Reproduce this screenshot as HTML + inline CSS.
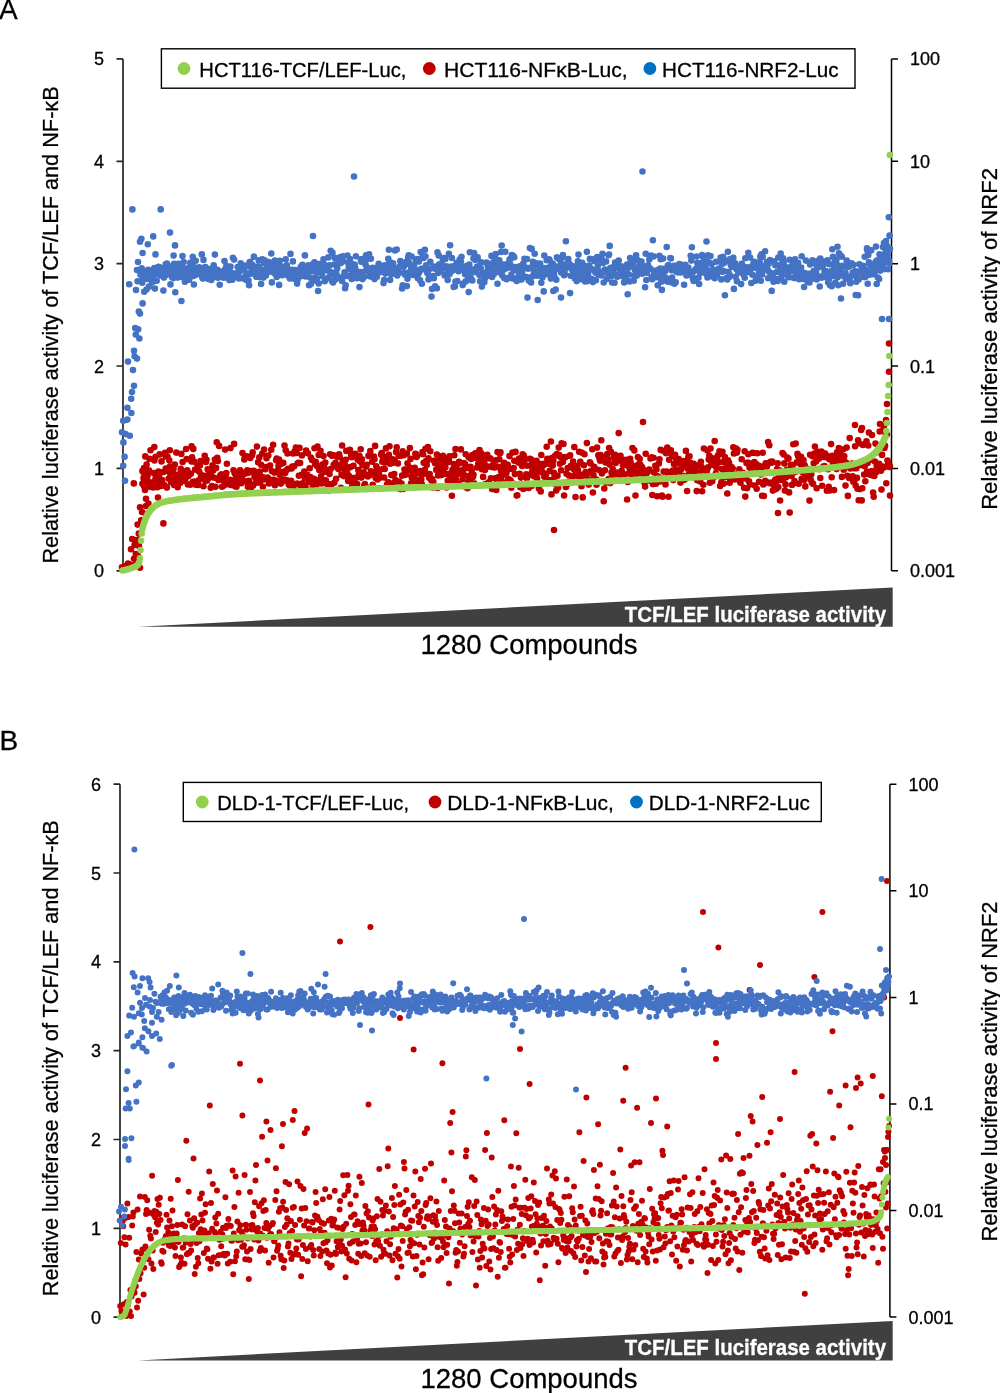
<!DOCTYPE html><html><head><meta charset="utf-8"><title>Luciferase screen</title><style>html,body{margin:0;padding:0;background:#fff;width:1000px;height:1393px;overflow:hidden}svg{display:block;will-change:transform}text{font-family:"Liberation Sans",sans-serif;stroke:currentColor;stroke-width:0.3px}</style></head><body><svg width="1000" height="1393" viewBox="0 0 1000 1393"><text x="-1" y="18.8" font-size="28" font-family="Liberation Sans, sans-serif">A</text><path d="M123 58.9V570.8M116.5 58.9H123M116.5 161.3H123M116.5 263.7H123M116.5 366H123M116.5 468.4H123M116.5 570.8H123" stroke="#262626" stroke-width="1.7" fill="none"/><path d="M891.5 58.9V570.8M891.5 58.9H898M891.5 161.3H898M891.5 263.7H898M891.5 366H898M891.5 468.4H898M891.5 570.8H898" stroke="#000" stroke-width="1.5" fill="none"/><text x="104" y="65.4" font-size="18" text-anchor="end" font-family="Liberation Sans, sans-serif">5</text><text x="104" y="167.8" font-size="18" text-anchor="end" font-family="Liberation Sans, sans-serif">4</text><text x="104" y="270.2" font-size="18" text-anchor="end" font-family="Liberation Sans, sans-serif">3</text><text x="104" y="372.5" font-size="18" text-anchor="end" font-family="Liberation Sans, sans-serif">2</text><text x="104" y="474.9" font-size="18" text-anchor="end" font-family="Liberation Sans, sans-serif">1</text><text x="104" y="577.3" font-size="18" text-anchor="end" font-family="Liberation Sans, sans-serif">0</text><text x="910" y="65.4" font-size="18" font-family="Liberation Sans, sans-serif">100</text><text x="910" y="167.8" font-size="18" font-family="Liberation Sans, sans-serif">10</text><text x="910" y="270.2" font-size="18" font-family="Liberation Sans, sans-serif">1</text><text x="910" y="372.5" font-size="18" font-family="Liberation Sans, sans-serif">0.1</text><text x="910" y="474.9" font-size="18" font-family="Liberation Sans, sans-serif">0.01</text><text x="910" y="577.3" font-size="18" font-family="Liberation Sans, sans-serif">0.001</text><text transform="translate(58.2 563.6) rotate(-90)" font-size="22" textLength="477.3" lengthAdjust="spacingAndGlyphs" font-family="Liberation Sans, sans-serif">Relative luciferase activity of TCF/LEF and NF-&#954;B</text><text transform="translate(997 509.8) rotate(-90)" font-size="22" textLength="341.8" lengthAdjust="spacingAndGlyphs" font-family="Liberation Sans, sans-serif">Relative luciferase activity of NRF2</text><path d="M143.5 472.3h0M144.1 486.2h0M144.7 477.5h0M145.3 456.4h0M145.9 476.3h0M146.5 471.6h0M147.1 479.2h0M147.7 475.3h0M148.3 481.9h0M148.9 470.3h0M149.5 458.8h0M150.1 486.8h0M150.7 485.8h0M151.3 487h0M151.9 486.1h0M152.5 482.4h0M153.1 487.5h0M153.7 473.1h0M154.3 447.1h0M154.9 485.2h0M155.5 478.6h0M156.1 486h0M156.7 479.3h0M157.3 487.3h0M157.9 475.2h0M158.5 471.6h0M159.1 476.5h0M159.7 454.4h0M160.3 481.5h0M160.9 486h0M161.5 461.4h0M162.1 480.1h0M162.7 485.6h0M163.3 472h0M163.9 484.9h0M164.5 485.2h0M165.1 452.7h0M165.7 468.5h0M166.3 469.4h0M166.9 487.6h0M167.5 456.8h0M168.1 471.3h0M168.7 478.8h0M169.3 460.2h0M169.9 466.5h0M170.5 474.9h0M171.1 482.3h0M171.7 469.1h0M172.3 474.2h0M172.9 475.2h0M173.5 469.1h0M174.1 485h0M174.7 478.8h0M175.3 483.6h0M175.9 483.9h0M176.5 478.1h0M177.1 474.7h0M177.7 487.2h0M178.3 480.6h0M178.9 474.5h0M179.5 474.9h0M180.1 482.9h0M180.7 468.9h0M181.3 453.9h0M181.9 471.1h0M182.5 476h0M183.1 471.4h0M183.7 475.5h0M184.3 472.5h0M184.9 480.9h0M185.5 478.5h0M186.1 449h0M186.7 459.1h0M187.3 470.4h0M187.9 484.4h0M188.5 476h0M189.1 474.4h0M189.7 484.4h0M190.3 484.7h0M190.9 473.8h0M191.5 461.4h0M192.1 457.2h0M192.7 482h0M193.3 448.9h0M193.9 481.5h0M194.5 482h0M195.1 469.6h0M195.7 484.7h0M196.3 483.6h0M196.9 482h0M197.5 466h0M198.1 485h0M198.7 480.2h0M199.3 471.7h0M199.9 465.4h0M200.5 461.1h0M201.1 476.3h0M201.7 478.1h0M202.3 475.2h0M202.9 477.8h0M203.5 486.3h0M204.1 476h0M204.7 455.7h0M205.3 480.5h0M205.9 462h0M206.5 459.7h0M207.1 480.6h0M207.7 469.3h0M208.3 478.5h0M208.9 472.8h0M209.5 471.6h0M210.1 472h0M210.7 487.7h0M211.3 475.6h0M211.9 486.1h0M212.5 465.3h0M213.1 470.4h0M213.7 467.1h0M214.3 477.7h0M214.9 459.6h0M215.5 486.8h0M216.1 468.1h0M216.7 442.3h0M217.3 457.7h0M217.9 461.1h0M218.5 479.9h0M219.1 445.9h0M219.7 478.6h0M220.3 475.2h0M220.9 476.6h0M221.5 474.3h0M222.1 486.7h0M222.7 476.3h0M223.3 480.2h0M223.9 485.6h0M224.5 478.7h0M225.1 449.6h0M225.7 475.2h0M226.3 473h0M226.9 463.7h0M227.5 482.9h0M228.1 480.5h0M228.7 480.7h0M229.3 484.4h0M229.9 479.7h0M230.5 448.1h0M231.1 485h0M231.7 481.7h0M232.3 481.9h0M232.9 480.3h0M233.5 470.3h0M234.1 443.9h0M234.7 473.3h0M235.3 486.4h0M235.9 478.1h0M236.5 486.8h0M237.1 483.2h0M237.7 473.3h0M238.3 476.8h0M238.9 478.2h0M239.5 480.2h0M240.1 470.4h0M240.7 479.2h0M241.3 483.2h0M241.9 477.8h0M242.5 453.1h0M243.1 472.5h0M243.7 481.2h0M244.3 459.4h0M244.9 457.4h0M245.5 473.6h0M246.1 481.2h0M246.7 456.4h0M247.3 470.3h0M247.9 486.8h0M248.5 472.7h0M249.1 480.9h0M249.7 483.1h0M250.3 458h0M250.9 471.1h0M251.5 487.1h0M252.1 455.2h0M252.7 452.4h0M253.3 485.2h0M253.9 470.8h0M254.5 476.3h0M255.1 474.3h0M255.7 478.2h0M256.3 482.4h0M256.9 446.6h0M257.5 477.2h0M258.1 462.3h0M258.7 482.6h0M259.3 457.4h0M259.9 471.5h0M260.5 481.2h0M261.1 464.7h0M261.7 476.9h0M262.3 453.5h0M262.9 486.8h0M263.5 477.3h0M264.1 449.6h0M264.7 479.2h0M265.3 469.3h0M265.9 467.1h0M266.5 458.2h0M267.1 478.6h0M267.7 477.6h0M268.3 455.5h0M268.9 483.5h0M269.5 480.3h0M270.1 465.6h0M270.7 479.9h0M271.3 449.7h0M271.9 471h0M272.5 482.7h0M273.1 444.8h0M273.7 479.7h0M274.3 472.6h0M274.9 485.3h0M275.5 480.5h0M276.1 460.2h0M276.7 458.5h0M277.3 483.3h0M277.9 470.5h0M278.5 466h0M279.1 459.6h0M279.7 474.8h0M280.3 481h0M280.9 483.6h0M281.5 463.8h0M282.1 472.1h0M282.7 481.4h0M283.3 462.9h0M283.9 479.5h0M284.5 445.5h0M285.1 473h0M285.7 450.2h0M286.3 470.4h0M286.9 480.3h0M287.5 453.5h0M288.1 468.9h0M288.7 484.5h0M289.3 482h0M289.9 485.8h0M290.5 481.8h0M291.1 480.7h0M291.7 468.5h0M292.3 466.6h0M292.9 453.5h0M293.5 486.7h0M294.1 466.3h0M294.7 451.4h0M295.3 452.6h0M295.9 447.5h0M296.5 452.9h0M297.1 483.5h0M297.7 463.2h0M298.3 462.9h0M298.9 475.8h0M299.5 447.9h0M300.1 463h0M300.7 486.7h0M301.3 474.8h0M301.9 455.4h0M302.5 483.2h0M303.1 487.8h0M303.7 485.3h0M304.3 471.5h0M304.9 478.1h0M305.5 486.2h0M306.1 450.5h0M306.7 476.3h0M307.3 474.9h0M307.9 453.2h0M308.5 478.6h0M309.1 481.7h0M309.7 468.3h0M310.3 477.1h0M310.9 457.6h0M311.5 482.2h0M312.1 460h0M312.7 487h0M313.3 481.8h0M313.9 478.8h0M314.5 448.3h0M315.1 464.1h0M315.7 461.8h0M316.3 485.1h0M316.9 466h0M317.5 446.6h0M318.1 480.8h0M318.7 455h0M319.3 469.9h0M319.9 479.5h0M320.5 450.7h0M321.1 476.3h0M321.7 483.4h0M322.3 464.5h0M322.9 481.8h0M323.5 456.1h0M324.1 466.7h0M324.7 471.7h0M325.3 462.5h0M325.9 480.2h0M326.5 483.2h0M327.1 489h0M327.7 470.3h0M328.3 490.6h0M328.9 484.1h0M329.5 473.9h0M330.1 454.2h0M330.7 469h0M331.3 484.6h0M331.9 455.8h0M332.5 455.2h0M333.1 455.3h0M333.7 464.7h0M334.3 482.7h0M334.9 455.5h0M335.5 462.9h0M336.1 478.8h0M336.7 456.5h0M337.3 467.8h0M337.9 467.7h0M338.5 469.1h0M339.1 454.2h0M339.7 456.9h0M340.3 465.5h0M340.9 487.9h0M341.5 474.8h0M342.1 445.5h0M342.7 461.8h0M343.3 463h0M343.9 476.1h0M344.5 469h0M345.1 465.2h0M345.7 459.7h0M346.3 450.9h0M346.9 472.3h0M347.5 476.7h0M348.1 480.9h0M348.7 475.5h0M349.3 467.4h0M349.9 449.7h0M350.5 467.1h0M351.1 455.5h0M351.7 457.3h0M352.3 485.9h0M352.9 478h0M353.5 465.7h0M354.1 482.7h0M354.7 483.9h0M355.3 453.7h0M355.9 455.2h0M356.5 477.5h0M357.1 484.1h0M357.7 459.7h0M358.3 470.1h0M358.9 474.1h0M359.5 456.1h0M360.1 461.6h0M360.7 449.3h0M361.3 477.6h0M361.9 459.4h0M362.5 465.3h0M363.1 474.1h0M363.7 472.2h0M364.3 485.2h0M364.9 484.1h0M365.5 486h0M366.1 466.5h0M366.7 464.9h0M367.3 476h0M367.9 476.4h0M368.5 455.9h0M369.1 475.6h0M369.7 474.5h0M370.3 451.1h0M370.9 471.2h0M371.5 471.9h0M372.1 461.7h0M372.7 484.8h0M373.3 474.7h0M373.9 456.6h0M374.5 459.3h0M375.1 445.9h0M375.7 478h0M376.3 466.3h0M376.9 470.4h0M377.5 479.5h0M378.1 478.3h0M378.7 488.3h0M379.3 475.5h0M379.9 469.9h0M380.5 477.6h0M381.1 454.5h0M381.7 453h0M382.3 461.7h0M382.9 457.2h0M383.5 468.8h0M384.1 477.5h0M384.7 469h0M385.3 462.5h0M385.9 448.4h0M386.5 456.9h0M387.1 484.2h0M387.7 459h0M388.3 482.3h0M388.9 454.7h0M389.5 446.3h0M390.1 463.8h0M390.7 484.3h0M391.3 475.1h0M391.9 483.5h0M392.5 459.3h0M393.1 462.8h0M393.7 462h0M394.3 474h0M394.9 460.9h0M395.5 480.1h0M396.1 452h0M396.7 447.2h0M397.3 484.1h0M397.9 463.4h0M398.5 455.7h0M399.1 481.5h0M399.7 484.9h0M400.3 489.1h0M400.9 455.8h0M401.5 483.6h0M402.1 475.6h0M402.7 451.2h0M403.3 489h0M403.9 455.3h0M404.5 469.5h0M405.1 474.9h0M405.7 472.1h0M406.3 474.3h0M406.9 453.5h0M407.5 463.4h0M408.1 469.9h0M408.7 487.2h0M409.3 467.4h0M409.9 448.1h0M410.5 458.9h0M411.1 483.2h0M411.7 477.6h0M412.3 477.5h0M412.9 473.3h0M413.5 483.4h0M414.1 476.5h0M414.7 467.9h0M415.3 453.7h0M415.9 454h0M416.5 457h0M417.1 456.1h0M417.7 485.4h0M418.3 480.4h0M418.9 471.6h0M419.5 473.6h0M420.1 471h0M420.7 472.3h0M421.3 479.3h0M421.9 484.2h0M422.5 452.1h0M423.1 454.3h0M423.7 462.7h0M424.3 473.8h0M424.9 469.8h0M425.5 448.7h0M426.1 461h0M426.7 465.1h0M427.3 460.8h0M427.9 447.1h0M428.5 458.2h0M429.1 477.8h0M429.7 474.1h0M430.3 451.3h0M430.9 479.4h0M431.5 480.6h0M432.1 479h0M432.7 487.5h0M433.3 481.9h0M433.9 460.7h0M434.5 460.7h0M435.1 463.2h0M435.7 461.1h0M436.3 469.9h0M436.9 454.6h0M437.5 488h0M438.1 475.4h0M438.7 468.1h0M439.3 465.5h0M439.9 458.2h0M440.5 465.3h0M441.1 470.1h0M441.7 475h0M442.3 462.9h0M442.9 455.7h0M443.5 469.8h0M444.1 458.2h0M444.7 464.6h0M445.3 467.6h0M445.9 459.6h0M446.5 487.5h0M447.1 474.3h0M447.7 480.7h0M448.3 462.1h0M448.9 460.6h0M449.5 456.4h0M450.1 473.6h0M450.7 475.9h0M451.3 481h0M451.9 495.7h0M452.5 469.9h0M453.1 482.1h0M453.7 464h0M454.3 455.3h0M454.9 473.6h0M455.5 449.1h0M456.1 479.9h0M456.7 465.6h0M457.3 474.2h0M457.9 470.5h0M458.5 483.7h0M459.1 461.9h0M459.7 463.1h0M460.3 471h0M460.9 449.4h0M461.5 472.9h0M462.1 474.1h0M462.7 479h0M463.3 469.5h0M463.9 463.1h0M464.5 475.2h0M465.1 464.1h0M465.7 454.2h0M466.3 487.5h0M466.9 468h0M467.5 488.3h0M468.1 482.3h0M468.7 457.3h0M469.3 479.1h0M469.9 475.8h0M470.5 466.7h0M471.1 459h0M471.7 471.4h0M472.3 455.1h0M472.9 476.9h0M473.5 474.7h0M474.1 483.2h0M474.7 457.7h0M475.3 453.4h0M475.9 456.1h0M476.5 456.3h0M477.1 467.5h0M477.7 455.3h0M478.3 463.5h0M478.9 461.9h0M479.5 450h0M480.1 463.1h0M480.7 459.1h0M481.3 453.4h0M481.9 469.2h0M482.5 464.2h0M483.1 476.9h0M483.7 469.2h0M484.3 462h0M484.9 469.9h0M485.5 484.1h0M486.1 457.5h0M486.7 457.3h0M487.3 454.9h0M487.9 466.5h0M488.5 482.4h0M489.1 482.5h0M489.7 458.5h0M490.3 458.4h0M490.9 478.2h0M491.5 466.9h0M492.1 489h0M492.7 465.4h0M493.3 465.7h0M493.9 461.8h0M494.5 467.6h0M495.1 478.3h0M495.7 460.4h0M496.3 490h0M496.9 480.2h0M497.5 452.1h0M498.1 466.9h0M498.7 477h0M499.3 459.3h0M499.9 453.4h0M500.5 452.2h0M501.1 471.3h0M501.7 476.5h0M502.3 468h0M502.9 482.3h0M503.5 465h0M504.1 462.8h0M504.7 473.4h0M505.3 466.9h0M505.9 467.6h0M506.5 472.8h0M507.1 470.2h0M507.7 464.7h0M508.3 478.9h0M508.9 485h0M509.5 456.1h0M510.1 480.1h0M510.7 480.8h0M511.3 487.7h0M511.9 468.9h0M512.5 452.6h0M513.1 483.6h0M513.7 468h0M514.3 460.8h0M514.9 474.1h0M515.5 451.9h0M516.1 460.7h0M516.7 495.6h0M517.3 495.3h0M517.9 461.7h0M518.5 462.6h0M519.1 458.5h0M519.7 473.8h0M520.3 487.3h0M520.9 477.6h0M521.5 463.8h0M522.1 466h0M522.7 454.3h0M523.3 489h0M523.9 455.9h0M524.5 460.2h0M525.1 465.2h0M525.7 486h0M526.3 474.4h0M526.9 478.3h0M527.5 465.7h0M528.1 486.1h0M528.7 488h0M529.3 474.5h0M529.9 458.7h0M530.5 465.6h0M531.1 459.5h0M531.7 485.9h0M532.3 471.1h0M532.9 460.8h0M533.5 476.1h0M534.1 475.1h0M534.7 464.4h0M535.3 468.5h0M535.9 469.5h0M536.5 460.8h0M537.1 478.4h0M537.7 472.6h0M538.3 471.8h0M538.9 488.5h0M539.5 483.5h0M540.1 464.1h0M540.7 491.4h0M541.3 455h0M541.9 467.4h0M542.5 472.8h0M543.1 463.7h0M543.7 464.9h0M544.3 476.8h0M544.9 476.2h0M545.5 473.9h0M546.1 474.2h0M546.7 446.8h0M547.3 458.9h0M547.9 482.9h0M548.5 463.7h0M549.1 480.1h0M549.7 470.8h0M550.3 461h0M550.9 441.5h0M551.5 494.4h0M552.1 457.8h0M552.7 465.4h0M553.3 460.4h0M553.9 472.9h0M554.5 477.3h0M555.1 455.7h0M555.7 484.6h0M556.3 490.5h0M556.9 454.1h0M557.5 475.8h0M558.1 487.8h0M558.7 447.6h0M559.3 455.1h0M559.9 463.7h0M560.5 457h0M561.1 470.2h0M561.7 443.3h0M562.3 462.3h0M562.9 461.8h0M563.5 444h0M564.1 495.5h0M564.7 457h0M565.3 457.3h0M565.9 487h0M566.5 473.8h0M567.1 484.6h0M567.7 468.1h0M568.3 482.2h0M568.9 475.4h0M569.5 455.7h0M570.1 455.4h0M570.7 466h0M571.3 482h0M571.9 482h0M572.5 477.5h0M573.1 461.5h0M573.7 469.1h0M574.3 447.1h0M574.9 475.1h0M575.5 497h0M576.1 475.1h0M576.7 467.3h0M577.3 465.9h0M577.9 470h0M578.5 481.4h0M579.1 451.7h0M579.7 479.3h0M580.3 461.7h0M580.9 474.5h0M581.5 486.2h0M582.1 452.7h0M582.7 497.4h0M583.3 481.7h0M583.9 465.3h0M584.5 454.3h0M585.1 478.5h0M585.7 472.1h0M586.3 476.6h0M586.9 443.1h0M587.5 473.6h0M588.1 472.8h0M588.7 484.6h0M589.3 480.6h0M589.9 462.4h0M590.5 463.5h0M591.1 470.7h0M591.7 479.7h0M592.3 449.3h0M592.9 492.5h0M593.5 475.1h0M594.1 466.8h0M594.7 481.6h0M595.3 468.8h0M595.9 479.3h0M596.5 484.7h0M597.1 447.6h0M597.7 480.5h0M598.3 455.3h0M598.9 470h0M599.5 458.3h0M600.1 460.7h0M600.7 455.1h0M601.3 440.3h0M601.9 473.5h0M602.5 460.2h0M603.1 471.3h0M603.7 501.2h0M604.3 488.5h0M604.9 470.3h0M605.5 462.5h0M606.1 482.6h0M606.7 456h0M607.3 454.1h0M607.9 459.2h0M608.5 479h0M609.1 448.1h0M609.7 464.6h0M610.3 483.1h0M610.9 451.7h0M611.5 472.6h0M612.1 475.3h0M612.7 469h0M613.3 477.4h0M613.9 456.8h0M614.5 460.5h0M615.1 454.9h0M615.7 463h0M616.3 480.6h0M616.9 472.5h0M617.5 459.3h0M618.1 475.7h0M618.7 433.1h0M619.3 473.6h0M619.9 478h0M620.5 455.8h0M621.1 460.9h0M621.7 470.8h0M622.3 473.4h0M622.9 465h0M623.5 459.8h0M624.1 460.7h0M624.7 474.3h0M625.3 464.9h0M625.9 459.7h0M626.5 460.7h0M627.1 499.5h0M627.7 481.9h0M628.3 480.4h0M628.9 473.4h0M629.5 468.2h0M630.1 458.7h0M630.7 462.6h0M631.3 472.1h0M631.9 470.2h0M632.5 448h0M633.1 478.3h0M633.7 466.6h0M634.3 450.4h0M634.9 466h0M635.5 495.5h0M636.1 465.7h0M636.7 475.4h0M637.3 471.9h0M637.9 457h0M638.5 464.5h0M639.1 473.8h0M639.7 459.1h0M640.3 464.9h0M640.9 469.1h0M641.5 466.6h0M642.1 467.2h0M642.7 474.8h0M643.3 476.3h0M643.9 470.1h0M644.5 482.7h0M645.1 486.6h0M645.7 453.8h0M646.3 473.5h0M646.9 470.8h0M647.5 472.2h0M648.1 470.2h0M648.7 470.2h0M649.3 469.6h0M649.9 480.8h0M650.5 458.5h0M651.1 479.3h0M651.7 457.2h0M652.3 495h0M652.9 484.1h0M653.5 457.8h0M654.1 472.4h0M654.7 479.1h0M655.3 465.7h0M655.9 483.8h0M656.5 469.5h0M657.1 496.2h0M657.7 476.3h0M658.3 478.8h0M658.9 463.6h0M659.5 459.3h0M660.1 481.4h0M660.7 449.9h0M661.3 478h0M661.9 495.6h0M662.5 496.8h0M663.1 450.8h0M663.7 471.6h0M664.3 478.8h0M664.9 480h0M665.5 484.4h0M666.1 453.2h0M666.7 471.5h0M667.3 447.6h0M667.9 473h0M668.5 496.7h0M669.1 459.7h0M669.7 475.2h0M670.3 473.5h0M670.9 450.4h0M671.5 473.8h0M672.1 455.6h0M672.7 470.5h0M673.3 480.1h0M673.9 464h0M674.5 478.2h0M675.1 454.7h0M675.7 458.2h0M676.3 469.7h0M676.9 462.7h0M677.5 463.2h0M678.1 474h0M678.7 459h0M679.3 473.4h0M679.9 462.6h0M680.5 482.6h0M681.1 469.2h0M681.7 465.1h0M682.3 480.6h0M682.9 475.8h0M683.5 477.3h0M684.1 461.1h0M684.7 479.6h0M685.3 464.8h0M685.9 450.9h0M686.5 465.8h0M687.1 491h0M687.7 468.8h0M688.3 457.1h0M688.9 474.1h0M689.5 456.2h0M690.1 462.5h0M690.7 465h0M691.3 473.7h0M691.9 476.9h0M692.5 473.6h0M693.1 469.6h0M693.7 463.7h0M694.3 465h0M694.9 474.2h0M695.5 469.5h0M696.1 465.4h0M696.7 491.1h0M697.3 480.2h0M697.9 480.5h0M698.5 472.9h0M699.1 473.8h0M699.7 473.6h0M700.3 481.5h0M700.9 461.7h0M701.5 466.7h0M702.1 491.3h0M702.7 470.1h0M703.3 484.7h0M703.9 448.5h0M704.5 476.1h0M705.1 475.3h0M705.7 469.2h0M706.3 472.8h0M706.9 471h0M707.5 450.5h0M708.1 467.4h0M708.7 459.6h0M709.3 455.8h0M709.9 482.7h0M710.5 448.6h0M711.1 461.4h0M711.7 458h0M712.3 481.3h0M712.9 459.8h0M713.5 465h0M714.1 477.1h0M714.7 441h0M715.3 463h0M715.9 473.3h0M716.5 467.8h0M717.1 458.6h0M717.7 455.8h0M718.3 462.8h0M718.9 454.6h0M719.5 451.4h0M720.1 486h0M720.7 476.4h0M721.3 482.2h0M721.9 469h0M722.5 451.7h0M723.1 461.9h0M723.7 483.6h0M724.3 474h0M724.9 457h0M725.5 477h0M726.1 471.4h0M726.7 466.3h0M727.3 493.5h0M727.9 460.2h0M728.5 465.8h0M729.1 462.9h0M729.7 482.7h0M730.3 480h0M730.9 477.8h0M731.5 467h0M732.1 469.3h0M732.7 468.6h0M733.3 447.3h0M733.9 453.5h0M734.5 479.4h0M735.1 478.6h0M735.7 448.3h0M736.3 474.3h0M736.9 452.6h0M737.5 449.8h0M738.1 477.2h0M738.7 473.7h0M739.3 469.2h0M739.9 481.3h0M740.5 482.7h0M741.1 475.3h0M741.7 459.3h0M742.3 475.9h0M742.9 472.9h0M743.5 476.2h0M744.1 487.7h0M744.7 451.2h0M745.3 496.6h0M745.9 478.6h0M746.5 463.1h0M747.1 488.1h0M747.7 462.5h0M748.3 454.2h0M748.9 481.2h0M749.5 467.5h0M750.1 484.4h0M750.7 463.7h0M751.3 469.1h0M751.9 467.5h0M752.5 452.7h0M753.1 464.2h0M753.7 453h0M754.3 462.1h0M754.9 485.6h0M755.5 466.9h0M756.1 464h0M756.7 488.7h0M757.3 453.2h0M757.9 469.3h0M758.5 465.5h0M759.1 481.7h0M759.7 469.3h0M760.3 466.4h0M760.9 474.4h0M761.5 469.2h0M762.1 495.7h0M762.7 452.8h0M763.3 484.5h0M763.9 496h0M764.5 482.5h0M765.1 480.9h0M765.7 463.3h0M766.3 481.9h0M766.9 466.6h0M767.5 482.5h0M768.1 442h0M768.7 463.3h0M769.3 445.2h0M769.9 483.2h0M770.5 461.7h0M771.1 482.5h0M771.7 462.8h0M772.3 461.6h0M772.9 490.6h0M773.5 484.8h0M774.1 485.2h0M774.7 489.5h0M775.3 479.6h0M775.9 482.5h0M776.5 488.8h0M777.1 469h0M777.7 463.3h0M778.3 487.1h0M778.9 477.4h0M779.5 470.2h0M780.1 500.5h0M780.7 480h0M781.3 472.3h0M781.9 476.9h0M782.5 453.1h0M783.1 480.1h0M783.7 454.5h0M784.3 463.4h0M784.9 490.6h0M785.5 484.4h0M786.1 477.3h0M786.7 469.7h0M787.3 457.5h0M787.9 473.5h0M788.5 458.6h0M789.1 492.4h0M789.7 512.6h0M790.3 475.6h0M790.9 464.7h0M791.5 475.9h0M792.1 484.9h0M792.7 465.1h0M793.3 444.3h0M793.9 472.4h0M794.5 481h0M795.1 482.7h0M795.7 443.6h0M796.3 471.5h0M796.9 462.4h0M797.5 453.9h0M798.1 455.9h0M798.7 483.8h0M799.3 457.5h0M799.9 459.1h0M800.5 464h0M801.1 456.7h0M801.7 478.8h0M802.3 471.9h0M802.9 478.3h0M803.5 460.1h0M804.1 480.1h0M804.7 465.3h0M805.3 486.4h0M805.9 472.6h0M806.5 476h0M807.1 472.5h0M807.7 468.9h0M808.3 473.4h0M808.9 474h0M809.5 500.6h0M810.1 454.8h0M810.7 479.8h0M811.3 474.3h0M811.9 482.7h0M812.5 456.2h0M813.1 483.9h0M813.7 463.3h0M814.3 453.5h0M814.9 446.6h0M815.5 453.3h0M816.1 461.5h0M816.7 488.2h0M817.3 451.6h0M817.9 453.1h0M818.5 458.2h0M819.1 458.6h0M819.7 469.3h0M820.3 478h0M820.9 454.4h0M821.5 451.5h0M822.1 485.8h0M822.7 456.7h0M823.3 466.6h0M823.9 457h0M824.5 466.1h0M825.1 453.5h0M825.7 454.8h0M826.3 456.8h0M826.9 490.7h0M827.5 457.6h0M828.1 469.2h0M828.7 486.9h0M829.3 459.2h0M829.9 490.5h0M830.5 456.2h0M831.1 444.1h0M831.7 477.3h0M832.3 455.7h0M832.9 462.7h0M833.5 459.6h0M834.1 490.1h0M834.7 460.1h0M835.3 467.3h0M835.9 458h0M836.5 469.1h0M837.1 452.4h0M837.7 465h0M838.3 458.7h0M838.9 448h0M839.5 466.2h0M840.1 453.6h0M840.7 465.4h0M841.3 460.7h0M841.9 476.9h0M842.5 456.7h0M843.1 449.6h0M843.7 469.8h0M844.3 456.2h0M844.9 461.8h0M845.5 485.6h0M846.1 462.8h0M846.7 447.6h0M847.3 475.7h0M847.9 495.9h0M848.5 464.8h0M849.1 478h0M849.7 438.1h0M850.3 468.4h0M850.9 467.8h0M851.5 477.5h0M852.1 463.6h0M852.7 476.4h0M853.3 481.7h0M853.9 468.3h0M854.5 480.1h0M855.1 446.3h0M855.7 485.6h0M856.3 468.2h0M856.9 477.9h0M857.5 488.8h0M858.1 440.3h0M858.7 500.2h0M859.3 443.3h0M859.9 489.1h0M860.5 465h0M861.1 430h0M861.7 500.4h0M862.3 488.2h0M862.9 444.9h0M863.5 463.1h0M864.1 474.6h0M864.7 466.2h0M865.3 481.2h0M865.9 463.5h0M866.5 441.2h0M867.1 471.5h0M867.7 462.9h0M868.3 445.5h0M868.9 432.6h0M869.5 474.5h0M870.1 459.9h0M870.7 473.9h0M871.3 475.1h0M871.9 471h0M872.5 474.7h0M873.1 492.6h0M873.7 496.8h0M874.3 476h0M874.9 461.6h0M875.5 443.6h0M876.1 472.3h0M876.7 466.2h0M877.3 452.3h0M877.9 450.9h0M878.5 464.9h0M879.1 463.8h0M879.7 431.5h0M880.3 468.2h0M880.9 470.7h0M881.5 489.6h0M882.1 454.9h0M882.7 466.5h0M883.3 429.8h0M883.9 467.4h0M884.5 447.9h0M885.1 445.7h0M885.7 433.5h0M886.3 483.3h0M886.9 434.5h0M887.5 460.6h0M888.1 462.4h0M888.7 465.8h0M889.3 467h0M889.9 466h0M133.8 483.4h0M143 483.8h0M143.6 477.8h0M146 498.8h0M140 507.2h0M146 506h0M148.4 503.6h0M158 497.6h0M163.4 523.4h0M137.6 524.6h0M141.2 520.4h0M138.8 533.6h0M132.2 539h0M134.6 545h0M131 549.2h0M135.8 554h0M134 558.8h0M128 563.6h0M122 567.2h0M140 567.8h0M146 514.4h0M125 566h0M131 565h0M136 562h0M138 556h0M139 546h0M137 540h0M142 512h0M150.5 450.2h0M169.8 450.2h0M176.3 452.6h0M191.6 446.4h0M155.6 456.8h0M165.8 456.5h0M154.4 460.4h0M146.6 464.6h0M174.8 464.6h0M182.6 462h0M194 461.6h0M142.4 471h0M149.6 472.4h0M168.8 471.8h0M143.6 478.4h0M142.4 483.8h0M145 490h0M144 468h0M554 530h0M778 513h0M889 343.5h0M889 371.7h0M890 495.6h0M643 422h0M887 404h0M886 420h0M884 426h0M880 424h0M872 435h0M862 428h0M855 425h0" stroke="#C00000" stroke-width="6.6" stroke-linecap="round" fill="none"/><path d="M122.5 570.5h0M123.1 570.4h0M123.7 570.3h0M124.3 570.2h0M124.9 570.1h0M125.5 569.9h0M126.1 569.8h0M126.7 569.6h0M127.3 569.4h0M127.9 569.3h0M128.5 569.1h0M129.1 568.9h0M129.7 568.7h0M130.3 568.5h0M130.9 568.3h0M131.5 568.1h0M132.1 567.9h0M132.7 567.7h0M133.3 567.5h0M133.9 567.3h0M134.5 567h0M135.1 566.7h0M135.7 566.4h0M136.3 566h0M136.9 565.6h0M137.5 565.1h0M138.1 564.5h0M138.7 563.6h0M139.3 562.1h0M139.9 558.2h0M140.5 550.1h0M141.1 540.7h0M141.7 533.5h0M142.3 529.3h0M142.9 526.8h0M143.5 524.7h0M144.1 522.8h0M144.7 521.2h0M145.3 519.6h0M145.9 518.1h0M146.5 516.6h0M147.1 515.4h0M147.7 514.3h0M148.3 513.3h0M148.9 512.3h0M149.5 511.4h0M150.1 510.7h0M150.7 510h0M151.3 509.3h0M151.9 508.7h0M152.5 508.1h0M153.1 507.5h0M153.7 507h0M154.3 506.5h0M154.9 506.1h0M155.5 505.7h0M156.1 505.3h0M156.7 504.9h0M157.3 504.5h0M157.9 504.2h0M158.5 503.9h0M159.1 503.5h0M159.7 503.3h0M160.3 503h0M160.9 502.8h0M161.5 502.6h0M162.1 502.4h0M162.7 502.2h0M163.3 502h0M163.9 501.9h0M164.5 501.8h0M165.1 501.6h0M165.7 501.5h0M166.3 501.4h0M166.9 501.3h0M167.5 501.1h0M168.1 501h0M168.7 500.9h0M169.3 500.8h0M169.9 500.7h0M170.5 500.7h0M171.1 500.6h0M171.7 500.5h0M172.3 500.4h0M172.9 500.3h0M173.5 500.2h0M174.1 500.1h0M174.7 500h0M175.3 500h0M175.9 499.9h0M176.5 499.8h0M177.1 499.7h0M177.7 499.6h0M178.3 499.5h0M178.9 499.5h0M179.5 499.4h0M180.1 499.3h0M180.7 499.2h0M181.3 499.2h0M181.9 499.1h0M182.5 499h0M183.1 499h0M183.7 498.9h0M184.3 498.8h0M184.9 498.7h0M185.5 498.7h0M186.1 498.6h0M186.7 498.5h0M187.3 498.5h0M187.9 498.4h0M188.5 498.4h0M189.1 498.3h0M189.7 498.2h0M190.3 498.2h0M190.9 498.1h0M191.5 498h0M192.1 498h0M192.7 497.9h0M193.3 497.9h0M193.9 497.8h0M194.5 497.8h0M195.1 497.7h0M195.7 497.7h0M196.3 497.6h0M196.9 497.5h0M197.5 497.5h0M198.1 497.4h0M198.7 497.4h0M199.3 497.3h0M199.9 497.3h0M200.5 497.2h0M201.1 497.2h0M201.7 497.1h0M202.3 497.1h0M202.9 497h0M203.5 497h0M204.1 496.9h0M204.7 496.9h0M205.3 496.8h0M205.9 496.8h0M206.5 496.7h0M207.1 496.7h0M207.7 496.6h0M208.3 496.6h0M208.9 496.5h0M209.5 496.4h0M210.1 496.4h0M210.7 496.3h0M211.3 496.3h0M211.9 496.2h0M212.5 496.2h0M213.1 496.1h0M213.7 496h0M214.3 496h0M214.9 495.9h0M215.5 495.9h0M216.1 495.8h0M216.7 495.7h0M217.3 495.7h0M217.9 495.6h0M218.5 495.5h0M219.1 495.5h0M219.7 495.4h0M220.3 495.3h0M220.9 495.3h0M221.5 495.2h0M222.1 495.2h0M222.7 495.1h0M223.3 495h0M223.9 495h0M224.5 494.9h0M225.1 494.9h0M225.7 494.8h0M226.3 494.8h0M226.9 494.7h0M227.5 494.7h0M228.1 494.6h0M228.7 494.6h0M229.3 494.5h0M229.9 494.5h0M230.5 494.5h0M231.1 494.4h0M231.7 494.4h0M232.3 494.4h0M232.9 494.3h0M233.5 494.3h0M234.1 494.2h0M234.7 494.2h0M235.3 494.2h0M235.9 494.1h0M236.5 494.1h0M237.1 494.1h0M237.7 494h0M238.3 494h0M238.9 494h0M239.5 493.9h0M240.1 493.9h0M240.7 493.9h0M241.3 493.8h0M241.9 493.8h0M242.5 493.8h0M243.1 493.8h0M243.7 493.7h0M244.3 493.7h0M244.9 493.7h0M245.5 493.6h0M246.1 493.6h0M246.7 493.6h0M247.3 493.5h0M247.9 493.5h0M248.5 493.5h0M249.1 493.5h0M249.7 493.4h0M250.3 493.4h0M250.9 493.4h0M251.5 493.3h0M252.1 493.3h0M252.7 493.3h0M253.3 493.3h0M253.9 493.2h0M254.5 493.2h0M255.1 493.2h0M255.7 493.2h0M256.3 493.1h0M256.9 493.1h0M257.5 493.1h0M258.1 493.1h0M258.7 493h0M259.3 493h0M259.9 493h0M260.5 493h0M261.1 492.9h0M261.7 492.9h0M262.3 492.9h0M262.9 492.9h0M263.5 492.8h0M264.1 492.8h0M264.7 492.8h0M265.3 492.8h0M265.9 492.7h0M266.5 492.7h0M267.1 492.7h0M267.7 492.7h0M268.3 492.7h0M268.9 492.6h0M269.5 492.6h0M270.1 492.6h0M270.7 492.6h0M271.3 492.5h0M271.9 492.5h0M272.5 492.5h0M273.1 492.5h0M273.7 492.5h0M274.3 492.4h0M274.9 492.4h0M275.5 492.4h0M276.1 492.4h0M276.7 492.3h0M277.3 492.3h0M277.9 492.3h0M278.5 492.3h0M279.1 492.3h0M279.7 492.2h0M280.3 492.2h0M280.9 492.2h0M281.5 492.2h0M282.1 492.2h0M282.7 492.1h0M283.3 492.1h0M283.9 492.1h0M284.5 492.1h0M285.1 492h0M285.7 492h0M286.3 492h0M286.9 492h0M287.5 492h0M288.1 491.9h0M288.7 491.9h0M289.3 491.9h0M289.9 491.9h0M290.5 491.9h0M291.1 491.8h0M291.7 491.8h0M292.3 491.8h0M292.9 491.8h0M293.5 491.7h0M294.1 491.7h0M294.7 491.7h0M295.3 491.7h0M295.9 491.7h0M296.5 491.6h0M297.1 491.6h0M297.7 491.6h0M298.3 491.6h0M298.9 491.5h0M299.5 491.5h0M300.1 491.5h0M300.7 491.5h0M301.3 491.4h0M301.9 491.4h0M302.5 491.4h0M303.1 491.4h0M303.7 491.4h0M304.3 491.3h0M304.9 491.3h0M305.5 491.3h0M306.1 491.3h0M306.7 491.2h0M307.3 491.2h0M307.9 491.2h0M308.5 491.2h0M309.1 491.2h0M309.7 491.1h0M310.3 491.1h0M310.9 491.1h0M311.5 491.1h0M312.1 491h0M312.7 491h0M313.3 491h0M313.9 491h0M314.5 490.9h0M315.1 490.9h0M315.7 490.9h0M316.3 490.9h0M316.9 490.9h0M317.5 490.8h0M318.1 490.8h0M318.7 490.8h0M319.3 490.8h0M319.9 490.7h0M320.5 490.7h0M321.1 490.7h0M321.7 490.7h0M322.3 490.7h0M322.9 490.6h0M323.5 490.6h0M324.1 490.6h0M324.7 490.6h0M325.3 490.5h0M325.9 490.5h0M326.5 490.5h0M327.1 490.5h0M327.7 490.5h0M328.3 490.4h0M328.9 490.4h0M329.5 490.4h0M330.1 490.4h0M330.7 490.4h0M331.3 490.3h0M331.9 490.3h0M332.5 490.3h0M333.1 490.3h0M333.7 490.2h0M334.3 490.2h0M334.9 490.2h0M335.5 490.2h0M336.1 490.2h0M336.7 490.1h0M337.3 490.1h0M337.9 490.1h0M338.5 490.1h0M339.1 490.1h0M339.7 490h0M340.3 490h0M340.9 490h0M341.5 490h0M342.1 489.9h0M342.7 489.9h0M343.3 489.9h0M343.9 489.9h0M344.5 489.9h0M345.1 489.8h0M345.7 489.8h0M346.3 489.8h0M346.9 489.8h0M347.5 489.8h0M348.1 489.7h0M348.7 489.7h0M349.3 489.7h0M349.9 489.7h0M350.5 489.7h0M351.1 489.6h0M351.7 489.6h0M352.3 489.6h0M352.9 489.6h0M353.5 489.5h0M354.1 489.5h0M354.7 489.5h0M355.3 489.5h0M355.9 489.5h0M356.5 489.4h0M357.1 489.4h0M357.7 489.4h0M358.3 489.4h0M358.9 489.4h0M359.5 489.3h0M360.1 489.3h0M360.7 489.3h0M361.3 489.3h0M361.9 489.3h0M362.5 489.2h0M363.1 489.2h0M363.7 489.2h0M364.3 489.2h0M364.9 489.2h0M365.5 489.1h0M366.1 489.1h0M366.7 489.1h0M367.3 489.1h0M367.9 489.1h0M368.5 489h0M369.1 489h0M369.7 489h0M370.3 489h0M370.9 489h0M371.5 488.9h0M372.1 488.9h0M372.7 488.9h0M373.3 488.9h0M373.9 488.9h0M374.5 488.8h0M375.1 488.8h0M375.7 488.8h0M376.3 488.8h0M376.9 488.8h0M377.5 488.7h0M378.1 488.7h0M378.7 488.7h0M379.3 488.7h0M379.9 488.7h0M380.5 488.6h0M381.1 488.6h0M381.7 488.6h0M382.3 488.6h0M382.9 488.6h0M383.5 488.5h0M384.1 488.5h0M384.7 488.5h0M385.3 488.5h0M385.9 488.5h0M386.5 488.4h0M387.1 488.4h0M387.7 488.4h0M388.3 488.4h0M388.9 488.4h0M389.5 488.3h0M390.1 488.3h0M390.7 488.3h0M391.3 488.3h0M391.9 488.3h0M392.5 488.2h0M393.1 488.2h0M393.7 488.2h0M394.3 488.2h0M394.9 488.2h0M395.5 488.1h0M396.1 488.1h0M396.7 488.1h0M397.3 488.1h0M397.9 488.1h0M398.5 488h0M399.1 488h0M399.7 488h0M400.3 488h0M400.9 488h0M401.5 488h0M402.1 487.9h0M402.7 487.9h0M403.3 487.9h0M403.9 487.9h0M404.5 487.9h0M405.1 487.8h0M405.7 487.8h0M406.3 487.8h0M406.9 487.8h0M407.5 487.8h0M408.1 487.7h0M408.7 487.7h0M409.3 487.7h0M409.9 487.7h0M410.5 487.7h0M411.1 487.6h0M411.7 487.6h0M412.3 487.6h0M412.9 487.6h0M413.5 487.6h0M414.1 487.6h0M414.7 487.5h0M415.3 487.5h0M415.9 487.5h0M416.5 487.5h0M417.1 487.5h0M417.7 487.4h0M418.3 487.4h0M418.9 487.4h0M419.5 487.4h0M420.1 487.4h0M420.7 487.4h0M421.3 487.3h0M421.9 487.3h0M422.5 487.3h0M423.1 487.3h0M423.7 487.3h0M424.3 487.2h0M424.9 487.2h0M425.5 487.2h0M426.1 487.2h0M426.7 487.2h0M427.3 487.2h0M427.9 487.1h0M428.5 487.1h0M429.1 487.1h0M429.7 487.1h0M430.3 487.1h0M430.9 487.1h0M431.5 487h0M432.1 487h0M432.7 487h0M433.3 487h0M433.9 487h0M434.5 486.9h0M435.1 486.9h0M435.7 486.9h0M436.3 486.9h0M436.9 486.9h0M437.5 486.9h0M438.1 486.8h0M438.7 486.8h0M439.3 486.8h0M439.9 486.8h0M440.5 486.8h0M441.1 486.8h0M441.7 486.7h0M442.3 486.7h0M442.9 486.7h0M443.5 486.7h0M444.1 486.7h0M444.7 486.7h0M445.3 486.6h0M445.9 486.6h0M446.5 486.6h0M447.1 486.6h0M447.7 486.6h0M448.3 486.5h0M448.9 486.5h0M449.5 486.5h0M450.1 486.5h0M450.7 486.5h0M451.3 486.5h0M451.9 486.4h0M452.5 486.4h0M453.1 486.4h0M453.7 486.4h0M454.3 486.4h0M454.9 486.4h0M455.5 486.3h0M456.1 486.3h0M456.7 486.3h0M457.3 486.3h0M457.9 486.3h0M458.5 486.3h0M459.1 486.2h0M459.7 486.2h0M460.3 486.2h0M460.9 486.2h0M461.5 486.2h0M462.1 486.2h0M462.7 486.1h0M463.3 486.1h0M463.9 486.1h0M464.5 486.1h0M465.1 486.1h0M465.7 486h0M466.3 486h0M466.9 486h0M467.5 486h0M468.1 486h0M468.7 486h0M469.3 485.9h0M469.9 485.9h0M470.5 485.9h0M471.1 485.9h0M471.7 485.9h0M472.3 485.9h0M472.9 485.8h0M473.5 485.8h0M474.1 485.8h0M474.7 485.8h0M475.3 485.8h0M475.9 485.7h0M476.5 485.7h0M477.1 485.7h0M477.7 485.7h0M478.3 485.7h0M478.9 485.7h0M479.5 485.6h0M480.1 485.6h0M480.7 485.6h0M481.3 485.6h0M481.9 485.6h0M482.5 485.5h0M483.1 485.5h0M483.7 485.5h0M484.3 485.5h0M484.9 485.5h0M485.5 485.5h0M486.1 485.4h0M486.7 485.4h0M487.3 485.4h0M487.9 485.4h0M488.5 485.4h0M489.1 485.3h0M489.7 485.3h0M490.3 485.3h0M490.9 485.3h0M491.5 485.3h0M492.1 485.3h0M492.7 485.2h0M493.3 485.2h0M493.9 485.2h0M494.5 485.2h0M495.1 485.2h0M495.7 485.1h0M496.3 485.1h0M496.9 485.1h0M497.5 485.1h0M498.1 485.1h0M498.7 485h0M499.3 485h0M499.9 485h0M500.5 485h0M501.1 485h0M501.7 484.9h0M502.3 484.9h0M502.9 484.9h0M503.5 484.9h0M504.1 484.9h0M504.7 484.8h0M505.3 484.8h0M505.9 484.8h0M506.5 484.8h0M507.1 484.8h0M507.7 484.8h0M508.3 484.7h0M508.9 484.7h0M509.5 484.7h0M510.1 484.7h0M510.7 484.7h0M511.3 484.6h0M511.9 484.6h0M512.5 484.6h0M513.1 484.6h0M513.7 484.6h0M514.3 484.5h0M514.9 484.5h0M515.5 484.5h0M516.1 484.5h0M516.7 484.5h0M517.3 484.4h0M517.9 484.4h0M518.5 484.4h0M519.1 484.4h0M519.7 484.4h0M520.3 484.3h0M520.9 484.3h0M521.5 484.3h0M522.1 484.3h0M522.7 484.3h0M523.3 484.2h0M523.9 484.2h0M524.5 484.2h0M525.1 484.2h0M525.7 484.2h0M526.3 484.1h0M526.9 484.1h0M527.5 484.1h0M528.1 484.1h0M528.7 484.1h0M529.3 484h0M529.9 484h0M530.5 484h0M531.1 484h0M531.7 484h0M532.3 483.9h0M532.9 483.9h0M533.5 483.9h0M534.1 483.9h0M534.7 483.9h0M535.3 483.8h0M535.9 483.8h0M536.5 483.8h0M537.1 483.8h0M537.7 483.8h0M538.3 483.7h0M538.9 483.7h0M539.5 483.7h0M540.1 483.7h0M540.7 483.7h0M541.3 483.6h0M541.9 483.6h0M542.5 483.6h0M543.1 483.6h0M543.7 483.6h0M544.3 483.5h0M544.9 483.5h0M545.5 483.5h0M546.1 483.5h0M546.7 483.5h0M547.3 483.4h0M547.9 483.4h0M548.5 483.4h0M549.1 483.4h0M549.7 483.3h0M550.3 483.3h0M550.9 483.3h0M551.5 483.3h0M552.1 483.3h0M552.7 483.2h0M553.3 483.2h0M553.9 483.2h0M554.5 483.2h0M555.1 483.2h0M555.7 483.1h0M556.3 483.1h0M556.9 483.1h0M557.5 483.1h0M558.1 483.1h0M558.7 483h0M559.3 483h0M559.9 483h0M560.5 483h0M561.1 482.9h0M561.7 482.9h0M562.3 482.9h0M562.9 482.9h0M563.5 482.9h0M564.1 482.8h0M564.7 482.8h0M565.3 482.8h0M565.9 482.8h0M566.5 482.8h0M567.1 482.7h0M567.7 482.7h0M568.3 482.7h0M568.9 482.7h0M569.5 482.6h0M570.1 482.6h0M570.7 482.6h0M571.3 482.6h0M571.9 482.6h0M572.5 482.5h0M573.1 482.5h0M573.7 482.5h0M574.3 482.5h0M574.9 482.5h0M575.5 482.4h0M576.1 482.4h0M576.7 482.4h0M577.3 482.4h0M577.9 482.3h0M578.5 482.3h0M579.1 482.3h0M579.7 482.3h0M580.3 482.3h0M580.9 482.2h0M581.5 482.2h0M582.1 482.2h0M582.7 482.2h0M583.3 482.1h0M583.9 482.1h0M584.5 482.1h0M585.1 482.1h0M585.7 482.1h0M586.3 482h0M586.9 482h0M587.5 482h0M588.1 482h0M588.7 481.9h0M589.3 481.9h0M589.9 481.9h0M590.5 481.9h0M591.1 481.8h0M591.7 481.8h0M592.3 481.8h0M592.9 481.8h0M593.5 481.8h0M594.1 481.7h0M594.7 481.7h0M595.3 481.7h0M595.9 481.7h0M596.5 481.6h0M597.1 481.6h0M597.7 481.6h0M598.3 481.6h0M598.9 481.5h0M599.5 481.5h0M600.1 481.5h0M600.7 481.5h0M601.3 481.4h0M601.9 481.4h0M602.5 481.4h0M603.1 481.4h0M603.7 481.4h0M604.3 481.3h0M604.9 481.3h0M605.5 481.3h0M606.1 481.3h0M606.7 481.2h0M607.3 481.2h0M607.9 481.2h0M608.5 481.2h0M609.1 481.1h0M609.7 481.1h0M610.3 481.1h0M610.9 481.1h0M611.5 481h0M612.1 481h0M612.7 481h0M613.3 481h0M613.9 480.9h0M614.5 480.9h0M615.1 480.9h0M615.7 480.9h0M616.3 480.8h0M616.9 480.8h0M617.5 480.8h0M618.1 480.8h0M618.7 480.8h0M619.3 480.7h0M619.9 480.7h0M620.5 480.7h0M621.1 480.7h0M621.7 480.6h0M622.3 480.6h0M622.9 480.6h0M623.5 480.6h0M624.1 480.5h0M624.7 480.5h0M625.3 480.5h0M625.9 480.5h0M626.5 480.4h0M627.1 480.4h0M627.7 480.4h0M628.3 480.4h0M628.9 480.3h0M629.5 480.3h0M630.1 480.3h0M630.7 480.3h0M631.3 480.2h0M631.9 480.2h0M632.5 480.2h0M633.1 480.2h0M633.7 480.1h0M634.3 480.1h0M634.9 480.1h0M635.5 480.1h0M636.1 480h0M636.7 480h0M637.3 480h0M637.9 479.9h0M638.5 479.9h0M639.1 479.9h0M639.7 479.9h0M640.3 479.8h0M640.9 479.8h0M641.5 479.8h0M642.1 479.8h0M642.7 479.7h0M643.3 479.7h0M643.9 479.7h0M644.5 479.7h0M645.1 479.6h0M645.7 479.6h0M646.3 479.6h0M646.9 479.6h0M647.5 479.5h0M648.1 479.5h0M648.7 479.5h0M649.3 479.5h0M649.9 479.4h0M650.5 479.4h0M651.1 479.4h0M651.7 479.3h0M652.3 479.3h0M652.9 479.3h0M653.5 479.3h0M654.1 479.2h0M654.7 479.2h0M655.3 479.2h0M655.9 479.2h0M656.5 479.1h0M657.1 479.1h0M657.7 479.1h0M658.3 479h0M658.9 479h0M659.5 479h0M660.1 479h0M660.7 478.9h0M661.3 478.9h0M661.9 478.9h0M662.5 478.9h0M663.1 478.8h0M663.7 478.8h0M664.3 478.8h0M664.9 478.7h0M665.5 478.7h0M666.1 478.7h0M666.7 478.7h0M667.3 478.6h0M667.9 478.6h0M668.5 478.6h0M669.1 478.5h0M669.7 478.5h0M670.3 478.5h0M670.9 478.5h0M671.5 478.4h0M672.1 478.4h0M672.7 478.4h0M673.3 478.3h0M673.9 478.3h0M674.5 478.3h0M675.1 478.3h0M675.7 478.2h0M676.3 478.2h0M676.9 478.2h0M677.5 478.1h0M678.1 478.1h0M678.7 478.1h0M679.3 478.1h0M679.9 478h0M680.5 478h0M681.1 478h0M681.7 477.9h0M682.3 477.9h0M682.9 477.9h0M683.5 477.8h0M684.1 477.8h0M684.7 477.8h0M685.3 477.8h0M685.9 477.7h0M686.5 477.7h0M687.1 477.7h0M687.7 477.6h0M688.3 477.6h0M688.9 477.6h0M689.5 477.5h0M690.1 477.5h0M690.7 477.5h0M691.3 477.5h0M691.9 477.4h0M692.5 477.4h0M693.1 477.4h0M693.7 477.3h0M694.3 477.3h0M694.9 477.3h0M695.5 477.2h0M696.1 477.2h0M696.7 477.2h0M697.3 477.1h0M697.9 477.1h0M698.5 477.1h0M699.1 477h0M699.7 477h0M700.3 477h0M700.9 477h0M701.5 476.9h0M702.1 476.9h0M702.7 476.9h0M703.3 476.8h0M703.9 476.8h0M704.5 476.8h0M705.1 476.7h0M705.7 476.7h0M706.3 476.7h0M706.9 476.6h0M707.5 476.6h0M708.1 476.6h0M708.7 476.5h0M709.3 476.5h0M709.9 476.5h0M710.5 476.4h0M711.1 476.4h0M711.7 476.4h0M712.3 476.3h0M712.9 476.3h0M713.5 476.3h0M714.1 476.2h0M714.7 476.2h0M715.3 476.2h0M715.9 476.1h0M716.5 476.1h0M717.1 476.1h0M717.7 476h0M718.3 476h0M718.9 476h0M719.5 475.9h0M720.1 475.9h0M720.7 475.9h0M721.3 475.8h0M721.9 475.8h0M722.5 475.8h0M723.1 475.7h0M723.7 475.7h0M724.3 475.7h0M724.9 475.6h0M725.5 475.6h0M726.1 475.6h0M726.7 475.5h0M727.3 475.5h0M727.9 475.5h0M728.5 475.4h0M729.1 475.4h0M729.7 475.4h0M730.3 475.3h0M730.9 475.3h0M731.5 475.3h0M732.1 475.2h0M732.7 475.2h0M733.3 475.2h0M733.9 475.1h0M734.5 475.1h0M735.1 475h0M735.7 475h0M736.3 475h0M736.9 474.9h0M737.5 474.9h0M738.1 474.9h0M738.7 474.8h0M739.3 474.8h0M739.9 474.8h0M740.5 474.7h0M741.1 474.7h0M741.7 474.7h0M742.3 474.6h0M742.9 474.6h0M743.5 474.5h0M744.1 474.5h0M744.7 474.5h0M745.3 474.4h0M745.9 474.4h0M746.5 474.4h0M747.1 474.3h0M747.7 474.3h0M748.3 474.2h0M748.9 474.2h0M749.5 474.2h0M750.1 474.1h0M750.7 474.1h0M751.3 474.1h0M751.9 474h0M752.5 474h0M753.1 473.9h0M753.7 473.9h0M754.3 473.9h0M754.9 473.8h0M755.5 473.8h0M756.1 473.7h0M756.7 473.7h0M757.3 473.7h0M757.9 473.6h0M758.5 473.6h0M759.1 473.5h0M759.7 473.5h0M760.3 473.5h0M760.9 473.4h0M761.5 473.4h0M762.1 473.3h0M762.7 473.3h0M763.3 473.3h0M763.9 473.2h0M764.5 473.2h0M765.1 473.1h0M765.7 473.1h0M766.3 473.1h0M766.9 473h0M767.5 473h0M768.1 472.9h0M768.7 472.9h0M769.3 472.9h0M769.9 472.8h0M770.5 472.8h0M771.1 472.7h0M771.7 472.7h0M772.3 472.6h0M772.9 472.6h0M773.5 472.6h0M774.1 472.5h0M774.7 472.5h0M775.3 472.4h0M775.9 472.4h0M776.5 472.3h0M777.1 472.3h0M777.7 472.3h0M778.3 472.2h0M778.9 472.2h0M779.5 472.1h0M780.1 472.1h0M780.7 472h0M781.3 472h0M781.9 471.9h0M782.5 471.9h0M783.1 471.8h0M783.7 471.8h0M784.3 471.8h0M784.9 471.7h0M785.5 471.7h0M786.1 471.6h0M786.7 471.6h0M787.3 471.5h0M787.9 471.5h0M788.5 471.4h0M789.1 471.4h0M789.7 471.3h0M790.3 471.3h0M790.9 471.2h0M791.5 471.2h0M792.1 471.1h0M792.7 471.1h0M793.3 471.1h0M793.9 471h0M794.5 471h0M795.1 470.9h0M795.7 470.9h0M796.3 470.8h0M796.9 470.8h0M797.5 470.7h0M798.1 470.7h0M798.7 470.6h0M799.3 470.6h0M799.9 470.5h0M800.5 470.5h0M801.1 470.4h0M801.7 470.4h0M802.3 470.3h0M802.9 470.3h0M803.5 470.2h0M804.1 470.2h0M804.7 470.1h0M805.3 470.1h0M805.9 470h0M806.5 470h0M807.1 469.9h0M807.7 469.9h0M808.3 469.8h0M808.9 469.8h0M809.5 469.7h0M810.1 469.7h0M810.7 469.6h0M811.3 469.6h0M811.9 469.5h0M812.5 469.5h0M813.1 469.4h0M813.7 469.4h0M814.3 469.3h0M814.9 469.3h0M815.5 469.2h0M816.1 469.2h0M816.7 469.1h0M817.3 469.1h0M817.9 469h0M818.5 469h0M819.1 468.9h0M819.7 468.9h0M820.3 468.8h0M820.9 468.8h0M821.5 468.7h0M822.1 468.6h0M822.7 468.6h0M823.3 468.5h0M823.9 468.5h0M824.5 468.4h0M825.1 468.4h0M825.7 468.3h0M826.3 468.2h0M826.9 468.2h0M827.5 468.1h0M828.1 468.1h0M828.7 468h0M829.3 467.9h0M829.9 467.9h0M830.5 467.8h0M831.1 467.7h0M831.7 467.7h0M832.3 467.6h0M832.9 467.5h0M833.5 467.4h0M834.1 467.4h0M834.7 467.3h0M835.3 467.2h0M835.9 467.2h0M836.5 467.1h0M837.1 467h0M837.7 466.9h0M838.3 466.8h0M838.9 466.8h0M839.5 466.7h0M840.1 466.6h0M840.7 466.5h0M841.3 466.4h0M841.9 466.3h0M842.5 466.2h0M843.1 466.2h0M843.7 466.1h0M844.3 466h0M844.9 465.9h0M845.5 465.8h0M846.1 465.7h0M846.7 465.6h0M847.3 465.5h0M847.9 465.4h0M848.5 465.3h0M849.1 465.2h0M849.7 465.1h0M850.3 464.9h0M850.9 464.8h0M851.5 464.7h0M852.1 464.6h0M852.7 464.4h0M853.3 464.3h0M853.9 464.1h0M854.5 464h0M855.1 463.8h0M855.7 463.6h0M856.3 463.4h0M856.9 463.2h0M857.5 463h0M858.1 462.8h0M858.7 462.6h0M859.3 462.4h0M859.9 462.2h0M860.5 461.9h0M861.1 461.7h0M861.7 461.4h0M862.3 461.2h0M862.9 460.9h0M863.5 460.7h0M864.1 460.4h0M864.7 460.1h0M865.3 459.8h0M865.9 459.5h0M866.5 459.2h0M867.1 458.9h0M867.7 458.6h0M868.3 458.2h0M868.9 457.8h0M869.5 457.4h0M870.1 457h0M870.7 456.6h0M871.3 456.1h0M871.9 455.7h0M872.5 455.2h0M873.1 454.7h0M873.7 454.1h0M874.3 453.6h0M874.9 453h0M875.5 452.5h0M876.1 451.9h0M876.7 451.3h0M877.3 450.6h0M877.9 449.9h0M878.5 449.1h0M879.1 448.3h0M879.7 447.4h0M880.3 446.6h0M880.9 445.7h0M881.5 444.7h0M882.1 443.7h0M882.7 442.7h0M883.3 441.5h0M883.9 440.2h0M884.5 438.8h0M885.1 437.3h0M885.7 437h0M886.3 431h0M886.9 423h0M887.5 412h0M888.1 396h0M888.7 385h0M889.3 356h0M889.9 155h0" stroke="#92D050" stroke-width="6.6" stroke-linecap="round" fill="none"/><path d="M140.5 274.8h0M141.1 272.6h0M141.7 268.3h0M142.3 282.7h0M142.9 279.2h0M143.5 274h0M144.1 279.2h0M144.7 275.1h0M145.3 271.3h0M145.9 273.3h0M146.5 289.5h0M147.1 278.8h0M147.7 279h0M148.3 269.9h0M148.9 276.1h0M149.5 286.5h0M150.1 274.9h0M150.7 278.9h0M151.3 280.1h0M151.9 276.2h0M152.5 282h0M153.1 273.5h0M153.7 275.2h0M154.3 268.1h0M154.9 288.6h0M155.5 273.9h0M156.1 272.6h0M156.7 280.7h0M157.3 268.8h0M157.9 271.8h0M158.5 266.9h0M159.1 272h0M159.7 269.4h0M160.3 275.2h0M160.9 271h0M161.5 268h0M162.1 269.9h0M162.7 271h0M163.3 268.5h0M163.9 277.6h0M164.5 275.9h0M165.1 272.6h0M165.7 264.2h0M166.3 274.9h0M166.9 263.6h0M167.5 272.8h0M168.1 271.9h0M168.7 267.9h0M169.3 266.3h0M169.9 267.2h0M170.5 284.4h0M171.1 269.8h0M171.7 270.2h0M172.3 277.5h0M172.9 274.1h0M173.5 278.1h0M174.1 263.7h0M174.7 264.6h0M175.3 292.3h0M175.9 271.2h0M176.5 269.6h0M177.1 272.4h0M177.7 277.6h0M178.3 263.9h0M178.9 273.1h0M179.5 271.2h0M180.1 275.6h0M180.7 272.4h0M181.3 268h0M181.9 265.9h0M182.5 256h0M183.1 277.4h0M183.7 262.1h0M184.3 268.8h0M184.9 281.7h0M185.5 268.7h0M186.1 275.1h0M186.7 269.9h0M187.3 275.6h0M187.9 271.4h0M188.5 268.1h0M189.1 279.7h0M189.7 269.6h0M190.3 262.9h0M190.9 269.2h0M191.5 274.6h0M192.1 264.3h0M192.7 276.1h0M193.3 276h0M193.9 284.5h0M194.5 267.2h0M195.1 275.3h0M195.7 260.8h0M196.3 268.6h0M196.9 271.8h0M197.5 273.7h0M198.1 270.8h0M198.7 270.6h0M199.3 267.3h0M199.9 268.4h0M200.5 273.1h0M201.1 274.7h0M201.7 275.2h0M202.3 277.4h0M202.9 278.6h0M203.5 259.9h0M204.1 267.9h0M204.7 270.1h0M205.3 267.1h0M205.9 277.7h0M206.5 275.8h0M207.1 270.5h0M207.7 271.9h0M208.3 279h0M208.9 269h0M209.5 269.2h0M210.1 276.8h0M210.7 274h0M211.3 280h0M211.9 273.4h0M212.5 275.8h0M213.1 267.7h0M213.7 265.2h0M214.3 271h0M214.9 254.6h0M215.5 273.6h0M216.1 277.1h0M216.7 271.6h0M217.3 269.7h0M217.9 277.8h0M218.5 270.8h0M219.1 277.2h0M219.7 284.7h0M220.3 275.6h0M220.9 276.9h0M221.5 274.1h0M222.1 272.6h0M222.7 272.8h0M223.3 271.5h0M223.9 277.8h0M224.5 261h0M225.1 269.4h0M225.7 275.1h0M226.3 265.8h0M226.9 270.4h0M227.5 266.7h0M228.1 273.8h0M228.7 276.4h0M229.3 280.1h0M229.9 274.1h0M230.5 266.5h0M231.1 272.6h0M231.7 274.5h0M232.3 279.8h0M232.9 257.7h0M233.5 273.3h0M234.1 259.6h0M234.7 275.4h0M235.3 273.8h0M235.9 274.1h0M236.5 276.5h0M237.1 273.4h0M237.7 267h0M238.3 273.2h0M238.9 278.4h0M239.5 270.2h0M240.1 271.1h0M240.7 263.4h0M241.3 278.2h0M241.9 267.8h0M242.5 266.3h0M243.1 268.2h0M243.7 265.6h0M244.3 269.4h0M244.9 278.9h0M245.5 275.9h0M246.1 279.8h0M246.7 280.2h0M247.3 265.4h0M247.9 273.9h0M248.5 280.2h0M249.1 285.2h0M249.7 262.1h0M250.3 262.1h0M250.9 273.8h0M251.5 268.8h0M252.1 264.7h0M252.7 273.3h0M253.3 266h0M253.9 256.6h0M254.5 270.7h0M255.1 271.7h0M255.7 274.9h0M256.3 276.8h0M256.9 272h0M257.5 269.4h0M258.1 266.6h0M258.7 260.4h0M259.3 268.1h0M259.9 277.2h0M260.5 275h0M261.1 284h0M261.7 269.9h0M262.3 259.3h0M262.9 276.2h0M263.5 277.6h0M264.1 263.2h0M264.7 260.3h0M265.3 271.8h0M265.9 275.5h0M266.5 263.5h0M267.1 268.6h0M267.7 265.7h0M268.3 263h0M268.9 262.1h0M269.5 271.7h0M270.1 268.3h0M270.7 266.3h0M271.3 253.5h0M271.9 282.4h0M272.5 264.5h0M273.1 269.9h0M273.7 263.2h0M274.3 273.3h0M274.9 260.6h0M275.5 271.4h0M276.1 269.5h0M276.7 276.9h0M277.3 263.3h0M277.9 266.3h0M278.5 269.1h0M279.1 284.9h0M279.7 260.7h0M280.3 272.7h0M280.9 266.2h0M281.5 272.8h0M282.1 275.2h0M282.7 271.7h0M283.3 272.5h0M283.9 272.6h0M284.5 266.6h0M285.1 269.2h0M285.7 259.2h0M286.3 268.2h0M286.9 265.3h0M287.5 268.9h0M288.1 275.8h0M288.7 273.3h0M289.3 273.9h0M289.9 278.4h0M290.5 253.9h0M291.1 273.7h0M291.7 270.5h0M292.3 269.9h0M292.9 261.4h0M293.5 274.5h0M294.1 278.7h0M294.7 277.9h0M295.3 270h0M295.9 275.1h0M296.5 277.2h0M297.1 283.6h0M297.7 279.4h0M298.3 271.6h0M298.9 271.3h0M299.5 271.8h0M300.1 272.2h0M300.7 267h0M301.3 276.1h0M301.9 265.6h0M302.5 264.7h0M303.1 273.1h0M303.7 266.4h0M304.3 268.8h0M304.9 255.4h0M305.5 276.4h0M306.1 270.5h0M306.7 269.6h0M307.3 273.9h0M307.9 272.1h0M308.5 265.4h0M309.1 285.3h0M309.7 267.2h0M310.3 277.7h0M310.9 284.1h0M311.5 265.9h0M312.1 271.2h0M312.7 264.4h0M313.3 278.3h0M313.9 268h0M314.5 262.3h0M315.1 280.4h0M315.7 277.4h0M316.3 263.8h0M316.9 279.4h0M317.5 272h0M318.1 291h0M318.7 283.5h0M319.3 266.3h0M319.9 268.4h0M320.5 263.8h0M321.1 271.5h0M321.7 270.8h0M322.3 276.1h0M322.9 271.1h0M323.5 259.2h0M324.1 264.2h0M324.7 281.3h0M325.3 279.4h0M325.9 269.2h0M326.5 269.4h0M327.1 269.1h0M327.7 270.6h0M328.3 257.4h0M328.9 277.4h0M329.5 265.3h0M330.1 271.6h0M330.7 250.7h0M331.3 272.3h0M331.9 280.9h0M332.5 252.9h0M333.1 282.4h0M333.7 274.1h0M334.3 264.6h0M334.9 257.9h0M335.5 279.6h0M336.1 272.5h0M336.7 275.1h0M337.3 268.2h0M337.9 264h0M338.5 277.3h0M339.1 262.8h0M339.7 277.6h0M340.3 257h0M340.9 263h0M341.5 258.7h0M342.1 280.9h0M342.7 256.3h0M343.3 261.2h0M343.9 275.7h0M344.5 272.2h0M345.1 288.2h0M345.7 285.3h0M346.3 275.4h0M346.9 276h0M347.5 255.5h0M348.1 263.1h0M348.7 267.7h0M349.3 268.9h0M349.9 259.1h0M350.5 262.7h0M351.1 263.4h0M351.7 279.1h0M352.3 273.8h0M352.9 267.6h0M353.5 268.1h0M354.1 272.7h0M354.7 264.6h0M355.3 268.2h0M355.9 256.2h0M356.5 275.8h0M357.1 278.2h0M357.7 273.3h0M358.3 274.3h0M358.9 273.3h0M359.5 287.1h0M360.1 272h0M360.7 259.4h0M361.3 261.7h0M361.9 276.2h0M362.5 279.1h0M363.1 276.7h0M363.7 277.2h0M364.3 271.8h0M364.9 258.1h0M365.5 264.5h0M366.1 255.4h0M366.7 267.1h0M367.3 259.1h0M367.9 271.1h0M368.5 268.9h0M369.1 254.2h0M369.7 276.3h0M370.3 276.5h0M370.9 258.8h0M371.5 271.5h0M372.1 276.2h0M372.7 267.9h0M373.3 277.3h0M373.9 271.8h0M374.5 279.1h0M375.1 271.8h0M375.7 268.9h0M376.3 274.4h0M376.9 276.7h0M377.5 272.3h0M378.1 266.5h0M378.7 263.7h0M379.3 267.1h0M379.9 265.5h0M380.5 271.9h0M381.1 271.6h0M381.7 269.5h0M382.3 270.2h0M382.9 271.6h0M383.5 283.1h0M384.1 280.1h0M384.7 265.4h0M385.3 273.6h0M385.9 267.4h0M386.5 269.3h0M387.1 268.1h0M387.7 265h0M388.3 258.9h0M388.9 249.7h0M389.5 271.8h0M390.1 279.9h0M390.7 262.6h0M391.3 274.3h0M391.9 266.9h0M392.5 272.4h0M393.1 263.4h0M393.7 268.2h0M394.3 269.2h0M394.9 250.4h0M395.5 271.9h0M396.1 268.9h0M396.7 249.5h0M397.3 275.5h0M397.9 269.8h0M398.5 271.8h0M399.1 273h0M399.7 266.6h0M400.3 261.1h0M400.9 266.3h0M401.5 266.5h0M402.1 288.5h0M402.7 285.3h0M403.3 266h0M403.9 266.6h0M404.5 272.7h0M405.1 274.7h0M405.7 264.3h0M406.3 261.7h0M406.9 286.1h0M407.5 278.8h0M408.1 257.1h0M408.7 255.3h0M409.3 263.1h0M409.9 271.8h0M410.5 274.5h0M411.1 267.1h0M411.7 256.5h0M412.3 271.8h0M412.9 275h0M413.5 269.9h0M414.1 265.8h0M414.7 274.7h0M415.3 269.5h0M415.9 260.6h0M416.5 270.7h0M417.1 259.1h0M417.7 278h0M418.3 273.8h0M418.9 261.6h0M419.5 271.7h0M420.1 280.4h0M420.7 252h0M421.3 268.8h0M421.9 283.7h0M422.5 256.9h0M423.1 268.5h0M423.7 258h0M424.3 269.3h0M424.9 249.8h0M425.5 256.3h0M426.1 265.4h0M426.7 271.1h0M427.3 273.1h0M427.9 273.5h0M428.5 279.5h0M429.1 275.8h0M429.7 276.1h0M430.3 261.7h0M430.9 268.6h0M431.5 296.6h0M432.1 288.9h0M432.7 276.9h0M433.3 276.1h0M433.9 278.2h0M434.5 266.5h0M435.1 286.4h0M435.7 266.7h0M436.3 269.2h0M436.9 288.2h0M437.5 252.4h0M438.1 272.9h0M438.7 255.4h0M439.3 264.4h0M439.9 269.1h0M440.5 266.9h0M441.1 271.3h0M441.7 263.4h0M442.3 269h0M442.9 259.8h0M443.5 266.6h0M444.1 258.1h0M444.7 275.4h0M445.3 258.9h0M445.9 275.7h0M446.5 266.4h0M447.1 267.3h0M447.7 279.9h0M448.3 270.8h0M448.9 253.8h0M449.5 274.1h0M450.1 245.3h0M450.7 272.1h0M451.3 266.5h0M451.9 258h0M452.5 270.5h0M453.1 267.2h0M453.7 286.9h0M454.3 266.1h0M454.9 286.4h0M455.5 281.6h0M456.1 264.7h0M456.7 262.9h0M457.3 281.1h0M457.9 268.7h0M458.5 271.2h0M459.1 267.7h0M459.7 259.5h0M460.3 266.7h0M460.9 261.7h0M461.5 256.8h0M462.1 267.3h0M462.7 285.1h0M463.3 283.6h0M463.9 269.3h0M464.5 271h0M465.1 274.2h0M465.7 281.4h0M466.3 272.6h0M466.9 265.8h0M467.5 266.5h0M468.1 279.5h0M468.7 292.1h0M469.3 264.5h0M469.9 252.3h0M470.5 276.8h0M471.1 269.2h0M471.7 271h0M472.3 280.4h0M472.9 270.4h0M473.5 258.5h0M474.1 253h0M474.7 269.4h0M475.3 259.9h0M475.9 272.3h0M476.5 258.9h0M477.1 266.8h0M477.7 257.2h0M478.3 266.7h0M478.9 266h0M479.5 274.9h0M480.1 281.3h0M480.7 268.3h0M481.3 262.4h0M481.9 286.6h0M482.5 272.9h0M483.1 275.1h0M483.7 275h0M484.3 282.3h0M484.9 278.5h0M485.5 275.6h0M486.1 276.4h0M486.7 262.5h0M487.3 264.6h0M487.9 268.9h0M488.5 270.6h0M489.1 270h0M489.7 272.5h0M490.3 270.1h0M490.9 266.2h0M491.5 255.9h0M492.1 277h0M492.7 274.9h0M493.3 262.3h0M493.9 274.1h0M494.5 273.2h0M495.1 270.5h0M495.7 254.1h0M496.3 259.5h0M496.9 264.7h0M497.5 283.7h0M498.1 262.5h0M498.7 266.9h0M499.3 260.3h0M499.9 265.6h0M500.5 272.8h0M501.1 252h0M501.7 245.5h0M502.3 275.5h0M502.9 270.1h0M503.5 264.6h0M504.1 278.1h0M504.7 278.2h0M505.3 251.8h0M505.9 268.4h0M506.5 279.3h0M507.1 264.1h0M507.7 267.1h0M508.3 278h0M508.9 267.5h0M509.5 259.5h0M510.1 263.9h0M510.7 258.4h0M511.3 274.6h0M511.9 255h0M512.5 278.4h0M513.1 255.7h0M513.7 270.2h0M514.3 257.2h0M514.9 267.1h0M515.5 278.6h0M516.1 279.5h0M516.7 281h0M517.3 269h0M517.9 270.7h0M518.5 271.8h0M519.1 275.1h0M519.7 266.4h0M520.3 279.3h0M520.9 272.6h0M521.5 279.6h0M522.1 273.9h0M522.7 275.6h0M523.3 263.5h0M523.9 266.2h0M524.5 258.7h0M525.1 267.3h0M525.7 268.3h0M526.3 277h0M526.9 259h0M527.5 297.6h0M528.1 268.8h0M528.7 280.6h0M529.3 278.7h0M529.9 248.1h0M530.5 267.5h0M531.1 282.5h0M531.7 248.9h0M532.3 276.4h0M532.9 261.9h0M533.5 265.8h0M534.1 271.7h0M534.7 253.7h0M535.3 271.5h0M535.9 264.2h0M536.5 263.3h0M537.1 275.8h0M537.7 300h0M538.3 272.7h0M538.9 274.5h0M539.5 269.3h0M540.1 263.6h0M540.7 272h0M541.3 282.8h0M541.9 271.4h0M542.5 277.4h0M543.1 267.8h0M543.7 291.4h0M544.3 255.6h0M544.9 274.8h0M545.5 274.4h0M546.1 272h0M546.7 260.2h0M547.3 260h0M547.9 267.7h0M548.5 270.6h0M549.1 259.3h0M549.7 260.6h0M550.3 274.6h0M550.9 278.6h0M551.5 264.9h0M552.1 263.7h0M552.7 263.5h0M553.3 291h0M553.9 273.9h0M554.5 269.1h0M555.1 278.4h0M555.7 289.5h0M556.3 279.8h0M556.9 257.4h0M557.5 269h0M558.1 266.2h0M558.7 266.7h0M559.3 259.2h0M559.9 266.3h0M560.5 260.4h0M561.1 272.6h0M561.7 270.1h0M562.3 257.5h0M562.9 255h0M563.5 265.5h0M564.1 275.3h0M564.7 273.9h0M565.3 269.1h0M565.9 241.2h0M566.5 265.4h0M567.1 263.3h0M567.7 266.8h0M568.3 259.1h0M568.9 265.9h0M569.5 263.9h0M570.1 293.1h0M570.7 275.7h0M571.3 268h0M571.9 269.2h0M572.5 268.6h0M573.1 271.3h0M573.7 266.2h0M574.3 269.5h0M574.9 278.5h0M575.5 276.8h0M576.1 272.3h0M576.7 281.1h0M577.3 271.6h0M577.9 261.2h0M578.5 254.6h0M579.1 263.7h0M579.7 269.1h0M580.3 273.1h0M580.9 278.9h0M581.5 264.7h0M582.1 262.7h0M582.7 276.3h0M583.3 279.8h0M583.9 265.5h0M584.5 272.6h0M585.1 281.5h0M585.7 272.4h0M586.3 269.2h0M586.9 251.7h0M587.5 281.1h0M588.1 275.2h0M588.7 270.7h0M589.3 265.6h0M589.9 258.9h0M590.5 268.8h0M591.1 268.7h0M591.7 279.1h0M592.3 259.2h0M592.9 282.1h0M593.5 270h0M594.1 279.9h0M594.7 261.3h0M595.3 272.6h0M595.9 280.2h0M596.5 270.6h0M597.1 257h0M597.7 266.8h0M598.3 274.3h0M598.9 257.6h0M599.5 257.2h0M600.1 271.7h0M600.7 261.5h0M601.3 275.5h0M601.9 259.5h0M602.5 253.8h0M603.1 263h0M603.7 282.5h0M604.3 262.2h0M604.9 269.6h0M605.5 271.8h0M606.1 261.5h0M606.7 279.1h0M607.3 271.2h0M607.9 273.5h0M608.5 255.2h0M609.1 254.6h0M609.7 245.9h0M610.3 268h0M610.9 267.7h0M611.5 275.9h0M612.1 282.5h0M612.7 267.5h0M613.3 267.4h0M613.9 273.6h0M614.5 282.8h0M615.1 262.6h0M615.7 275.1h0M616.3 267.5h0M616.9 266.8h0M617.5 276.7h0M618.1 262.9h0M618.7 260.5h0M619.3 275.4h0M619.9 269.5h0M620.5 267.4h0M621.1 268.5h0M621.7 274h0M622.3 266.5h0M622.9 276.3h0M623.5 273.3h0M624.1 282.4h0M624.7 280.6h0M625.3 277.1h0M625.9 267.9h0M626.5 270.7h0M627.1 264.6h0M627.7 294.2h0M628.3 267.8h0M628.9 274.5h0M629.5 281.4h0M630.1 258h0M630.7 262.6h0M631.3 266.3h0M631.9 261.1h0M632.5 258.8h0M633.1 265.3h0M633.7 280.8h0M634.3 275.9h0M634.9 270h0M635.5 270h0M636.1 255.4h0M636.7 275.7h0M637.3 273.4h0M637.9 260.4h0M638.5 271.5h0M639.1 268.1h0M639.7 265.3h0M640.3 261.2h0M640.9 263.9h0M641.5 261.6h0M642.1 273.7h0M642.7 272.9h0M643.3 272.5h0M643.9 268.2h0M644.5 266.2h0M645.1 287.3h0M645.7 253.7h0M646.3 280h0M646.9 272.8h0M647.5 270.3h0M648.1 265.4h0M648.7 267.9h0M649.3 259.5h0M649.9 257.8h0M650.5 268.8h0M651.1 255.5h0M651.7 277h0M652.3 279.3h0M652.9 240.2h0M653.5 256.4h0M654.1 272.1h0M654.7 271.6h0M655.3 270.7h0M655.9 273.4h0M656.5 276.2h0M657.1 277.2h0M657.7 285.2h0M658.3 270h0M658.9 277.2h0M659.5 255.8h0M660.1 268.6h0M660.7 259.3h0M661.3 281.8h0M661.9 289.9h0M662.5 274.4h0M663.1 258.6h0M663.7 268.8h0M664.3 270h0M664.9 271.5h0M665.5 279.1h0M666.1 278h0M666.7 247h0M667.3 281.5h0M667.9 265.5h0M668.5 265h0M669.1 282h0M669.7 267.5h0M670.3 258h0M670.9 258.4h0M671.5 270.3h0M672.1 277.6h0M672.7 282.7h0M673.3 268.3h0M673.9 265.8h0M674.5 283.8h0M675.1 265.9h0M675.7 282.3h0M676.3 271.8h0M676.9 271.8h0M677.5 267.8h0M678.1 272.4h0M678.7 265.8h0M679.3 264h0M679.9 268.6h0M680.5 264.2h0M681.1 272.4h0M681.7 270.5h0M682.3 267.5h0M682.9 268.1h0M683.5 267.8h0M684.1 284.8h0M684.7 269.7h0M685.3 264.7h0M685.9 267.3h0M686.5 275.5h0M687.1 268.1h0M687.7 268.5h0M688.3 267.6h0M688.9 271.2h0M689.5 273.2h0M690.1 273.6h0M690.7 255.7h0M691.3 260.6h0M691.9 247.2h0M692.5 276.7h0M693.1 279.3h0M693.7 281h0M694.3 271h0M694.9 279.7h0M695.5 269.5h0M696.1 268.8h0M696.7 256.5h0M697.3 263.1h0M697.9 264.7h0M698.5 277.7h0M699.1 284h0M699.7 265.8h0M700.3 273h0M700.9 272.2h0M701.5 263.1h0M702.1 255h0M702.7 263.3h0M703.3 257.4h0M703.9 267.1h0M704.5 268.6h0M705.1 268.2h0M705.7 268.3h0M706.3 273.9h0M706.9 261.8h0M707.5 277.4h0M708.1 255.4h0M708.7 270.3h0M709.3 273.1h0M709.9 263h0M710.5 256.1h0M711.1 275.3h0M711.7 264h0M712.3 276.5h0M712.9 276.4h0M713.5 269.7h0M714.1 269.8h0M714.7 278.2h0M715.3 273h0M715.9 261.8h0M716.5 271.2h0M717.1 274.5h0M717.7 271.5h0M718.3 271.4h0M718.9 268.5h0M719.5 268.7h0M720.1 261.7h0M720.7 257.5h0M721.3 279.4h0M721.9 264.3h0M722.5 271.7h0M723.1 256.9h0M723.7 271.1h0M724.3 262.7h0M724.9 295.2h0M725.5 261h0M726.1 261.5h0M726.7 277.8h0M727.3 279.5h0M727.9 251.7h0M728.5 271.9h0M729.1 277.3h0M729.7 259.3h0M730.3 275.6h0M730.9 265.2h0M731.5 261.2h0M732.1 266.8h0M732.7 265.8h0M733.3 257.9h0M733.9 288.9h0M734.5 265.9h0M735.1 263.4h0M735.7 277.1h0M736.3 269.1h0M736.9 281.2h0M737.5 267.5h0M738.1 272.8h0M738.7 270.5h0M739.3 271.2h0M739.9 268h0M740.5 268.9h0M741.1 284.1h0M741.7 263.9h0M742.3 265.1h0M742.9 266.8h0M743.5 274.6h0M744.1 273.2h0M744.7 277.7h0M745.3 258.3h0M745.9 272h0M746.5 268.2h0M747.1 267.3h0M747.7 271.1h0M748.3 252.9h0M748.9 272.1h0M749.5 271h0M750.1 257.6h0M750.7 268.9h0M751.3 283h0M751.9 266.4h0M752.5 274.8h0M753.1 267.8h0M753.7 262.8h0M754.3 261.9h0M754.9 266.4h0M755.5 280.8h0M756.1 276.7h0M756.7 263.7h0M757.3 278.3h0M757.9 268.7h0M758.5 263.9h0M759.1 273.4h0M759.7 262h0M760.3 256.4h0M760.9 280.8h0M761.5 254.2h0M762.1 274.4h0M762.7 256.8h0M763.3 269.5h0M763.9 268.1h0M764.5 266h0M765.1 251.2h0M765.7 268.8h0M766.3 269.4h0M766.9 262.1h0M767.5 269.2h0M768.1 278.2h0M768.7 263.7h0M769.3 272h0M769.9 260h0M770.5 273h0M771.1 275.2h0M771.7 290.9h0M772.3 277.5h0M772.9 273.5h0M773.5 281.7h0M774.1 261.3h0M774.7 278.9h0M775.3 265.2h0M775.9 264.5h0M776.5 279.1h0M777.1 271.8h0M777.7 281h0M778.3 257.5h0M778.9 272.1h0M779.5 265.3h0M780.1 267.5h0M780.7 253.6h0M781.3 277.8h0M781.9 271.6h0M782.5 261.5h0M783.1 258.4h0M783.7 262.4h0M784.3 281.7h0M784.9 269h0M785.5 267h0M786.1 274h0M786.7 269.9h0M787.3 271.8h0M787.9 276.1h0M788.5 272.7h0M789.1 277.3h0M789.7 259.8h0M790.3 270.4h0M790.9 266.9h0M791.5 270.8h0M792.1 269.5h0M792.7 264.5h0M793.3 266.9h0M793.9 277.9h0M794.5 265.2h0M795.1 259.4h0M795.7 274.9h0M796.3 278.1h0M796.9 267.6h0M797.5 271h0M798.1 262.9h0M798.7 268.2h0M799.3 279.3h0M799.9 276.7h0M800.5 271.2h0M801.1 267.6h0M801.7 256.2h0M802.3 272.6h0M802.9 273.8h0M803.5 278.9h0M804.1 287h0M804.7 273.1h0M805.3 278h0M805.9 260.6h0M806.5 280.1h0M807.1 277.3h0M807.7 281.5h0M808.3 275.7h0M808.9 273.8h0M809.5 282.4h0M810.1 264.4h0M810.7 275.4h0M811.3 279.1h0M811.9 263.4h0M812.5 260.3h0M813.1 273.7h0M813.7 271.1h0M814.3 275.2h0M814.9 275.5h0M815.5 263.6h0M816.1 272.9h0M816.7 279.5h0M817.3 267.1h0M817.9 267.7h0M818.5 260.6h0M819.1 276.9h0M819.7 286.5h0M820.3 258.6h0M820.9 276.5h0M821.5 277.7h0M822.1 265.4h0M822.7 267h0M823.3 261.3h0M823.9 263.5h0M824.5 271.5h0M825.1 275.6h0M825.7 271.1h0M826.3 277.3h0M826.9 271.8h0M827.5 260.3h0M828.1 282.3h0M828.7 280.1h0M829.3 264.2h0M829.9 285h0M830.5 274.1h0M831.1 271.3h0M831.7 286.2h0M832.3 249.2h0M832.9 256.7h0M833.5 276.1h0M834.1 268.1h0M834.7 262.2h0M835.3 282.8h0M835.9 274.3h0M836.5 259.5h0M837.1 264.7h0M837.7 277.3h0M838.3 285.2h0M838.9 253.4h0M839.5 272.3h0M840.1 267h0M840.7 255.6h0M841.3 268.8h0M841.9 256.8h0M842.5 265.7h0M843.1 283.8h0M843.7 274.5h0M844.3 276.8h0M844.9 275.3h0M845.5 273.2h0M846.1 278.4h0M846.7 260.5h0M847.3 267.2h0M847.9 277.4h0M848.5 264.2h0M849.1 266.6h0M849.7 280.4h0M850.3 283.2h0M850.9 265.2h0M851.5 263.4h0M852.1 275.2h0M852.7 272.6h0M853.3 264.7h0M853.9 275.3h0M854.5 275h0M855.1 271h0M855.7 295h0M856.3 281.7h0M856.9 277.2h0M857.5 278.9h0M858.1 295.2h0M858.7 279.5h0M859.3 264.3h0M859.9 273h0M860.5 271h0M861.1 265.6h0M861.7 272.5h0M862.3 272.4h0M862.9 269.8h0M863.5 266.1h0M864.1 277.1h0M864.7 256.7h0M865.3 277h0M865.9 270h0M866.5 272.2h0M867.1 249.8h0M867.7 283.8h0M868.3 255.1h0M868.9 262.2h0M869.5 274.8h0M870.1 264.2h0M870.7 265.7h0M871.3 250.2h0M871.9 265.2h0M872.5 270.5h0M873.1 274.3h0M873.7 266h0M874.3 270.1h0M874.9 271.7h0M875.5 262.2h0M876.1 261.4h0M876.7 284h0M877.3 260.2h0M877.9 277.5h0M878.5 267.5h0M879.1 279.1h0M879.7 261.1h0M880.3 270.6h0M880.9 268.7h0M881.5 263.7h0M882.1 267.7h0M882.7 258.1h0M883.3 263.4h0M883.9 260h0M884.5 269.1h0M885.1 261.2h0M885.7 249.5h0M886.3 257.3h0M886.9 258.8h0M887.5 251.2h0M888.1 269.2h0M888.7 260.5h0M889.3 263.3h0M889.9 248.9h0M134 385.8h0M131.2 398.8h0M127.4 407.8h0M131.4 413h0M123.2 420.8h0M127.4 419.6h0M122 432.2h0M125.6 434h0M129.8 435.8h0M123.4 442.4h0M124.6 456.8h0M123.2 465.8h0M125 480.8h0M129.2 284.2h0M137.6 281.2h0M149 286.6h0M144.2 291.8h0M163.4 290.6h0M181.4 301h0M142.6 303.4h0M138.8 311.5h0M140 313.6h0M135.2 328h0M138.2 329.2h0M135.8 334.6h0M139.4 338.5h0M134 350.8h0M134.6 356.2h0M137 358.6h0M128 361.6h0M133 370h0M132 392h0M132.4 209.4h0M160.7 209.4h0M170 232.6h0M153.2 236.4h0M141.4 238.8h0M140 241.8h0M147.8 244.2h0M175 245.4h0M142.6 253h0M155.5 254.4h0M173.6 255.6h0M201.8 254.4h0M192.8 256.8h0M137 270h0M138 262h0M136 290h0M313 236h0M354 176.5h0M642.5 171.5h0M561 297.5h0M841 298.5h0M706.5 241.5h0M888.8 217.2h0M889.6 235.6h0M886 241h0M884 243h0M887 246h0M883 247h0M888 250h0M887.6 255h0M876 246.6h0M879.5 254.4h0M867 248.4h0M868 253h0M837.5 246.8h0M884.4 254.2h0M882 319h0M889 319h0" stroke="#4472C4" stroke-width="6.6" stroke-linecap="round" fill="none"/><rect x="161.4" y="48.8" width="693.6" height="39.4" fill="#fff" stroke="#000" stroke-width="1.4"/><circle cx="184" cy="68.5" r="6.4" fill="#92D050"/><text x="199.3" y="76.8" font-size="21" textLength="207.2" lengthAdjust="spacingAndGlyphs" font-family="Liberation Sans, sans-serif">HCT116-TCF/LEF-Luc,</text><circle cx="429.3" cy="68.5" r="6.4" fill="#C00000"/><text x="444" y="76.8" font-size="21" textLength="183.7" lengthAdjust="spacingAndGlyphs" font-family="Liberation Sans, sans-serif">HCT116-NF&#954;B-Luc,</text><circle cx="649.9" cy="68.5" r="6.4" fill="#0070C0"/><text x="662" y="76.8" font-size="21" textLength="176.7" lengthAdjust="spacingAndGlyphs" font-family="Liberation Sans, sans-serif">HCT116-NRF2-Luc</text><path d="M138 626.8L892.7 587.5L892.7 626.8Z" fill="#404040"/><text x="624.8" y="622.3" font-size="22" font-weight="bold" fill="#fff" style="color:#fff" textLength="261.2" lengthAdjust="spacingAndGlyphs" font-family="Liberation Sans, sans-serif">TCF/LEF luciferase activity</text><text x="420.5" y="654.4" font-size="28" textLength="217" lengthAdjust="spacingAndGlyphs" font-family="Liberation Sans, sans-serif">1280 Compounds</text><text x="-0.5" y="750" font-size="28" font-family="Liberation Sans, sans-serif">B</text><path d="M120 784.2V1317.1M113.5 784.2H120M113.5 873H120M113.5 961.8H120M113.5 1050.7H120M113.5 1139.5H120M113.5 1228.3H120M113.5 1317.1H120" stroke="#262626" stroke-width="1.7" fill="none"/><path d="M889.9 784.2V1317.1M889.9 784.2H896.4M889.9 890.8H896.4M889.9 997.4H896.4M889.9 1103.9H896.4M889.9 1210.5H896.4M889.9 1317.1H896.4" stroke="#000" stroke-width="1.5" fill="none"/><text x="101" y="790.7" font-size="18" text-anchor="end" font-family="Liberation Sans, sans-serif">6</text><text x="101" y="879.5" font-size="18" text-anchor="end" font-family="Liberation Sans, sans-serif">5</text><text x="101" y="968.3" font-size="18" text-anchor="end" font-family="Liberation Sans, sans-serif">4</text><text x="101" y="1057.2" font-size="18" text-anchor="end" font-family="Liberation Sans, sans-serif">3</text><text x="101" y="1146" font-size="18" text-anchor="end" font-family="Liberation Sans, sans-serif">2</text><text x="101" y="1234.8" font-size="18" text-anchor="end" font-family="Liberation Sans, sans-serif">1</text><text x="101" y="1323.6" font-size="18" text-anchor="end" font-family="Liberation Sans, sans-serif">0</text><text x="908.4" y="790.7" font-size="18" font-family="Liberation Sans, sans-serif">100</text><text x="908.4" y="897.3" font-size="18" font-family="Liberation Sans, sans-serif">10</text><text x="908.4" y="1003.9" font-size="18" font-family="Liberation Sans, sans-serif">1</text><text x="908.4" y="1110.4" font-size="18" font-family="Liberation Sans, sans-serif">0.1</text><text x="908.4" y="1217" font-size="18" font-family="Liberation Sans, sans-serif">0.01</text><text x="908.4" y="1323.6" font-size="18" font-family="Liberation Sans, sans-serif">0.001</text><text transform="translate(58.2 1296.2) rotate(-90)" font-size="22" textLength="476" lengthAdjust="spacingAndGlyphs" font-family="Liberation Sans, sans-serif">Relative luciferase activity of TCF/LEF and NF-&#954;B</text><text transform="translate(996.5 1241.5) rotate(-90)" font-size="22" textLength="340" lengthAdjust="spacingAndGlyphs" font-family="Liberation Sans, sans-serif">Relative luciferase activity of NRF2</text><path d="M120.2 1306.1h0M120.8 1243h0M121.4 1310.9h0M122 1218.1h0M122.6 1221.3h0M123.2 1226.3h0M123.8 1304.2h0M124.4 1237.2h0M125 1218.2h0M125.6 1244.4h0M126.2 1316h0M126.8 1302.1h0M127.4 1203.6h0M128 1305h0M128.6 1217h0M129.2 1237.7h0M129.8 1311.5h0M130.4 1290h0M131 1316h0M131.6 1296.6h0M132.2 1225.6h0M132.8 1216.5h0M133.4 1212.4h0M134 1289.9h0M134.6 1292.7h0M135.2 1280.4h0M135.8 1286.3h0M136.4 1252h0M137 1307.4h0M137.6 1209.4h0M138.2 1300.7h0M138.8 1259.4h0M139.4 1278.9h0M140 1196.6h0M140.6 1273.2h0M141.2 1253.4h0M141.8 1262.1h0M142.4 1249.6h0M143 1261.6h0M143.6 1294.5h0M144.2 1267.7h0M144.8 1197.1h0M145.4 1246.6h0M146 1214h0M146.6 1210.1h0M147.2 1200.3h0M147.9 1249.9h0M148.5 1259.3h0M149.1 1229.7h0M149.7 1212.7h0M150.3 1235.8h0M150.9 1238.4h0M151.5 1263.6h0M152.1 1175.7h0M152.7 1250.5h0M153.3 1269.1h0M153.9 1215h0M154.5 1211.1h0M155.1 1217.2h0M155.7 1232.1h0M156.3 1211.8h0M156.9 1222.7h0M157.5 1199h0M158.1 1224.4h0M158.7 1204.8h0M159.3 1214h0M159.9 1197.7h0M160.5 1219.9h0M161.1 1262.2h0M161.7 1263.8h0M162.3 1250.8h0M162.9 1242.8h0M163.5 1251.8h0M164.1 1242.1h0M164.7 1239.1h0M165.3 1240.4h0M165.9 1236h0M166.5 1214.7h0M167.1 1227.5h0M167.7 1238.4h0M168.3 1232.2h0M168.9 1245.3h0M169.5 1220.4h0M170.1 1246.1h0M170.7 1198.7h0M171.3 1237.4h0M171.9 1226.3h0M172.5 1210.6h0M173.1 1243.1h0M173.7 1233.5h0M174.3 1236.3h0M174.9 1247.6h0M175.5 1256h0M176.1 1235.7h0M176.7 1233.4h0M177.3 1225.1h0M177.9 1180.1h0M178.5 1242.1h0M179.1 1266.9h0M179.7 1239h0M180.3 1265h0M180.9 1257.6h0M181.5 1262.7h0M182.1 1224.5h0M182.7 1247.7h0M183.3 1247.5h0M183.9 1238.2h0M184.5 1263.8h0M185.1 1226.3h0M185.7 1242.6h0M186.3 1140.8h0M186.9 1254.2h0M187.5 1214.2h0M188.1 1253.1h0M188.7 1191.7h0M189.3 1252.9h0M189.9 1220.5h0M190.5 1244.1h0M191.1 1250.5h0M191.7 1239.7h0M192.3 1226.2h0M192.9 1227.7h0M193.5 1158.6h0M194.1 1218.3h0M194.7 1273.9h0M195.3 1224.6h0M195.9 1266.7h0M196.5 1243h0M197.1 1222.8h0M197.7 1258.1h0M198.3 1263.3h0M198.9 1233h0M199.5 1241.2h0M200.1 1198.4h0M200.7 1229.3h0M201.3 1214.5h0M201.9 1193.5h0M202.5 1220.5h0M203.2 1235h0M203.8 1252.9h0M204.4 1230.5h0M205 1212.8h0M205.6 1204.2h0M206.2 1236.4h0M206.8 1248.4h0M207.4 1249.3h0M208 1258.7h0M208.6 1233.2h0M209.2 1171.6h0M209.8 1105.4h0M210.4 1268.7h0M211 1203h0M211.6 1261.6h0M212.2 1228.8h0M212.8 1184.1h0M213.4 1257.5h0M214 1257.5h0M214.6 1232h0M215.2 1217.5h0M215.8 1234.4h0M216.4 1223.5h0M217 1190.5h0M217.6 1263.8h0M218.2 1213.7h0M218.8 1255.2h0M219.4 1239.8h0M220 1239.6h0M220.6 1231.7h0M221.2 1246.2h0M221.8 1254.7h0M222.4 1234.4h0M223 1227.7h0M223.6 1238.5h0M224.2 1253.8h0M224.8 1255.5h0M225.4 1197.3h0M226 1227.9h0M226.6 1225.7h0M227.2 1253.7h0M227.8 1263.5h0M228.4 1219.1h0M229 1225.2h0M229.6 1238.4h0M230.2 1261.7h0M230.8 1226h0M231.4 1240.8h0M232 1240.8h0M232.6 1170.6h0M233.2 1274.3h0M233.8 1233.6h0M234.4 1206.9h0M235 1261.2h0M235.6 1176.6h0M236.2 1256.3h0M236.8 1251.6h0M237.4 1221.4h0M238 1240.3h0M238.6 1192.7h0M239.2 1229.9h0M239.8 1230.6h0M240.4 1225.3h0M241 1239.7h0M241.6 1232.1h0M242.2 1246.8h0M242.8 1235.2h0M243.4 1246.8h0M244 1245.2h0M244.6 1175h0M245.2 1259.2h0M245.8 1224.7h0M246.4 1229.7h0M247 1251.4h0M247.6 1238.6h0M248.2 1259.5h0M248.8 1279h0M249.4 1260.1h0M250 1192h0M250.6 1249h0M251.2 1225.3h0M251.8 1229.5h0M252.4 1225.1h0M253 1213.2h0M253.6 1216.1h0M254.2 1239.6h0M254.8 1202.2h0M255.4 1180.5h0M256 1164.9h0M256.6 1231.1h0M257.2 1228.2h0M257.9 1227.9h0M258.5 1240.5h0M259.1 1206.2h0M259.7 1251.1h0M260.3 1233.5h0M260.9 1248.1h0M261.5 1203.2h0M262.1 1136.7h0M262.7 1235.6h0M263.3 1210.9h0M263.9 1200.3h0M264.5 1228h0M265.1 1250.5h0M265.7 1210.1h0M266.3 1222.9h0M266.9 1237.7h0M267.5 1160.5h0M268.1 1228.8h0M268.7 1262.7h0M269.3 1226.4h0M269.9 1234.8h0M270.5 1130.1h0M271.1 1233.9h0M271.7 1237.6h0M272.3 1224.3h0M272.9 1223h0M273.5 1257.5h0M274.1 1241.3h0M274.7 1239.8h0M275.3 1200h0M275.9 1168.3h0M276.5 1191.2h0M277.1 1250.7h0M277.7 1248.7h0M278.3 1245.6h0M278.9 1211.8h0M279.5 1232.3h0M280.1 1208.3h0M280.7 1255.8h0M281.3 1259.2h0M281.9 1146.2h0M282.5 1207.8h0M283.1 1201.8h0M283.7 1268.1h0M284.3 1260.4h0M284.9 1227h0M285.5 1182.1h0M286.1 1210.1h0M286.7 1224.5h0M287.3 1218.2h0M287.9 1246.5h0M288.5 1243.6h0M289.1 1184.3h0M289.7 1233.1h0M290.3 1252.8h0M290.9 1221h0M291.5 1259.1h0M292.1 1231h0M292.7 1207.7h0M293.3 1255h0M293.9 1206.9h0M294.5 1111h0M295.1 1225h0M295.7 1253.4h0M296.3 1248.5h0M296.9 1239.4h0M297.5 1181.6h0M298.1 1254.7h0M298.7 1239.5h0M299.3 1236.4h0M299.9 1219.7h0M300.5 1186.1h0M301.1 1276.3h0M301.7 1208.4h0M302.3 1259.1h0M302.9 1245h0M303.5 1189.1h0M304.1 1225.6h0M304.7 1133.1h0M305.3 1208h0M305.9 1249.1h0M306.5 1221.2h0M307.1 1128.6h0M307.7 1261.3h0M308.3 1235.8h0M308.9 1228.4h0M309.5 1228.5h0M310.1 1246.9h0M310.7 1236.6h0M311.3 1245h0M311.9 1222.1h0M312.6 1222.5h0M313.2 1249.9h0M313.8 1255.5h0M314.4 1230.3h0M315 1215.5h0M315.6 1192h0M316.2 1202.9h0M316.8 1218.7h0M317.4 1216.8h0M318 1236h0M318.6 1220h0M319.2 1248.9h0M319.8 1228.9h0M320.4 1255.9h0M321 1233.4h0M321.6 1222.8h0M322.2 1251.4h0M322.8 1199.3h0M323.4 1243.3h0M324 1223.8h0M324.6 1232.8h0M325.2 1189.3h0M325.8 1242.3h0M326.4 1250.4h0M327 1263.3h0M327.6 1240.2h0M328.2 1253.4h0M328.8 1220.5h0M329.4 1197h0M330 1267.4h0M330.6 1254.8h0M331.2 1218.7h0M331.8 1265.5h0M332.4 1225.6h0M333 1225.2h0M333.6 1221.1h0M334.2 1219.5h0M334.8 1190.8h0M335.4 1252.6h0M336 1254h0M336.6 1241.2h0M337.2 1227.6h0M337.8 1247.1h0M338.4 1227.8h0M339 1242.1h0M339.6 1209.6h0M340.2 1201.1h0M340.8 1239.6h0M341.4 1251.6h0M342 1245.4h0M342.6 1229h0M343.2 1175.3h0M343.8 1226.4h0M344.4 1195.2h0M345 1249.6h0M345.6 1277.2h0M346.2 1223.7h0M346.8 1253.6h0M347.4 1175.1h0M348 1190.7h0M348.6 1185.7h0M349.2 1258.8h0M349.8 1243.6h0M350.4 1204.2h0M351 1216.9h0M351.6 1260.6h0M352.2 1234h0M352.8 1241.7h0M353.4 1235.6h0M354 1214.6h0M354.6 1214.6h0M355.2 1225.1h0M355.8 1195.5h0M356.4 1262.3h0M357 1239h0M357.6 1221.3h0M358.2 1253.8h0M358.8 1243.7h0M359.4 1176.8h0M360 1224.2h0M360.6 1243.5h0M361.2 1256h0M361.8 1183.1h0M362.4 1230.5h0M363 1222.5h0M363.6 1225.9h0M364.2 1230.3h0M364.8 1253.3h0M365.4 1206.1h0M366 1242.3h0M366.6 1213.4h0M367.2 1255.4h0M367.9 1211.2h0M368.5 1104.6h0M369.1 1217.6h0M369.7 1256.7h0M370.3 1230.6h0M370.9 1232.6h0M371.5 1226.7h0M372.1 1236h0M372.7 1220.4h0M373.3 1218.6h0M373.9 1226.4h0M374.5 1244.4h0M375.1 1229.2h0M375.7 1260.2h0M376.3 1240.9h0M376.9 1216.2h0M377.5 1199.1h0M378.1 1241.2h0M378.7 1236h0M379.3 1169.1h0M379.9 1245.7h0M380.5 1201.7h0M381.1 1256.8h0M381.7 1234.4h0M382.3 1209.9h0M382.9 1215.4h0M383.5 1249.8h0M384.1 1253.2h0M384.7 1210.7h0M385.3 1253.7h0M385.9 1205.4h0M386.5 1241.3h0M387.1 1231.3h0M387.7 1166.3h0M388.3 1148.4h0M388.9 1211.6h0M389.5 1255.4h0M390.1 1244.2h0M390.7 1236.8h0M391.3 1233.1h0M391.9 1198h0M392.5 1260.3h0M393.1 1217h0M393.7 1228.3h0M394.3 1205h0M394.9 1186.1h0M395.5 1253.7h0M396.1 1230.3h0M396.7 1229.2h0M397.3 1277.6h0M397.9 1256.2h0M398.5 1248.9h0M399.1 1194.8h0M399.7 1258.7h0M400.3 1204.4h0M400.9 1225.6h0M401.5 1266.5h0M402.1 1226.2h0M402.7 1240.9h0M403.3 1202.4h0M403.9 1161.9h0M404.5 1168.4h0M405.1 1214.5h0M405.7 1211.8h0M406.3 1190.1h0M406.9 1229h0M407.5 1253.1h0M408.1 1209.7h0M408.7 1252.5h0M409.3 1227.3h0M409.9 1246.3h0M410.5 1240h0M411.1 1220.5h0M411.7 1241.7h0M412.3 1220.8h0M412.9 1256.4h0M413.5 1195.6h0M414.1 1243.2h0M414.7 1206.5h0M415.3 1171.6h0M415.9 1269.3h0M416.5 1256.1h0M417.1 1234.8h0M417.7 1202h0M418.3 1215.9h0M418.9 1222.2h0M419.5 1244.6h0M420.1 1217.8h0M420.7 1178.9h0M421.3 1210.9h0M421.9 1275.3h0M422.6 1262.5h0M423.2 1274.2h0M423.8 1226.7h0M424.4 1247.4h0M425 1168.8h0M425.6 1205.1h0M426.2 1202.9h0M426.8 1218.2h0M427.4 1216.2h0M428 1219h0M428.6 1259.2h0M429.2 1216.8h0M429.8 1235.3h0M430.4 1198.3h0M431 1163.4h0M431.6 1242.9h0M432.2 1242.2h0M432.8 1221.7h0M433.4 1215.2h0M434 1238.6h0M434.6 1232.7h0M435.2 1216.3h0M435.8 1220.8h0M436.4 1201.6h0M437 1225h0M437.6 1247.2h0M438.2 1260.7h0M438.8 1211.1h0M439.4 1237h0M440 1237.3h0M440.6 1236.1h0M441.2 1258h0M441.8 1238.1h0M442.4 1063.2h0M443 1241.4h0M443.6 1247.3h0M444.2 1180.5h0M444.8 1220h0M445.4 1234.5h0M446 1226.5h0M446.6 1253.1h0M447.2 1244.8h0M447.8 1236.4h0M448.4 1237.3h0M449 1283.4h0M449.6 1228.4h0M450.2 1122.9h0M450.8 1211.1h0M451.4 1152.5h0M452 1191.2h0M452.6 1112h0M453.2 1231.3h0M453.8 1205.6h0M454.4 1210.7h0M455 1223.3h0M455.6 1252.7h0M456.2 1249.9h0M456.8 1265.7h0M457.4 1261.9h0M458 1251.4h0M458.6 1213.5h0M459.2 1222.5h0M459.8 1242.8h0M460.4 1228.8h0M461 1231.8h0M461.6 1213.4h0M462.2 1234.6h0M462.8 1228.7h0M463.4 1256.6h0M464 1253.7h0M464.6 1246.3h0M465.2 1227.1h0M465.8 1156.5h0M466.4 1150.3h0M467 1215.9h0M467.6 1206.7h0M468.2 1223.9h0M468.8 1202.3h0M469.4 1226.9h0M470 1220.8h0M470.6 1235.6h0M471.2 1232.6h0M471.8 1177.2h0M472.4 1252.1h0M473 1232.8h0M473.6 1241.5h0M474.2 1206.1h0M474.8 1179.9h0M475.4 1236.1h0M476 1285.4h0M476.6 1201.6h0M477.3 1215.1h0M477.9 1259.5h0M478.5 1236.5h0M479.1 1231h0M479.7 1267.8h0M480.3 1251.1h0M480.9 1219.4h0M481.5 1224.2h0M482.1 1257.5h0M482.7 1243.7h0M483.3 1247.3h0M483.9 1208.1h0M484.5 1248.5h0M485.1 1149.9h0M485.7 1220.8h0M486.3 1266.1h0M486.9 1133h0M487.5 1225.9h0M488.1 1209.5h0M488.7 1224.6h0M489.3 1261.4h0M489.9 1237.9h0M490.5 1269.5h0M491.1 1249.1h0M491.7 1157.4h0M492.3 1197h0M492.9 1236.5h0M493.5 1248.2h0M494.1 1206.4h0M494.7 1230.5h0M495.3 1224.6h0M495.9 1214.5h0M496.5 1250h0M497.1 1210.1h0M497.7 1276.8h0M498.3 1190.7h0M498.9 1257.8h0M499.5 1242h0M500.1 1242.8h0M500.7 1251.9h0M501.3 1211.3h0M501.9 1221.1h0M502.5 1216.6h0M503.1 1218.4h0M503.7 1229h0M504.3 1120.3h0M504.9 1267.7h0M505.5 1267.7h0M506.1 1230.3h0M506.7 1234.1h0M507.3 1226.2h0M507.9 1219.5h0M508.5 1234.3h0M509.1 1248.7h0M509.7 1256.8h0M510.3 1262.4h0M510.9 1166.4h0M511.5 1206.8h0M512.1 1254.5h0M512.7 1235h0M513.3 1219h0M513.9 1186.1h0M514.5 1205.4h0M515.1 1236.5h0M515.7 1199.6h0M516.3 1133.2h0M516.9 1249.9h0M517.5 1229.7h0M518.1 1243.7h0M518.7 1167.8h0M519.3 1207.8h0M519.9 1224.7h0M520.5 1248h0M521.1 1207.8h0M521.7 1214h0M522.3 1244.2h0M522.9 1238.2h0M523.5 1256.1h0M524.1 1230.8h0M524.7 1207.8h0M525.3 1179.8h0M525.9 1215.3h0M526.5 1208.9h0M527.1 1241.1h0M527.7 1238.8h0M528.3 1198h0M528.9 1218.5h0M529.5 1244.9h0M530.1 1217.2h0M530.7 1208.6h0M531.3 1196.3h0M531.9 1226.6h0M532.6 1239.7h0M533.2 1242.4h0M533.8 1182.4h0M534.4 1225.7h0M535 1201.1h0M535.6 1214.3h0M536.2 1252.4h0M536.8 1223.7h0M537.4 1218.3h0M538 1205h0M538.6 1226.6h0M539.2 1202.4h0M539.8 1280.2h0M540.4 1233.6h0M541 1245.5h0M541.6 1218.1h0M542.2 1230.8h0M542.8 1225.7h0M543.4 1241.2h0M544 1215.7h0M544.6 1227.3h0M545.2 1265.7h0M545.8 1233.9h0M546.4 1221.1h0M547 1168.6h0M547.6 1240.7h0M548.2 1244.8h0M548.8 1199.4h0M549.4 1203.6h0M550 1226.4h0M550.6 1244h0M551.2 1194.6h0M551.8 1228.6h0M552.4 1175.6h0M553 1203.4h0M553.6 1237.8h0M554.2 1239.5h0M554.8 1171.2h0M555.4 1207h0M556 1178.6h0M556.6 1238.7h0M557.2 1220h0M557.8 1243.7h0M558.4 1262.3h0M559 1209h0M559.6 1209.7h0M560.2 1223.1h0M560.8 1213.1h0M561.4 1219.7h0M562 1248.1h0M562.6 1248.8h0M563.2 1235.6h0M563.8 1240.1h0M564.4 1196.7h0M565 1237.7h0M565.6 1253h0M566.2 1241.1h0M566.8 1179.6h0M567.4 1247.5h0M568 1225.1h0M568.6 1241.4h0M569.2 1196.2h0M569.8 1227.1h0M570.4 1237.6h0M571 1251h0M571.6 1236h0M572.2 1208.2h0M572.8 1212.3h0M573.4 1253.3h0M574 1186.4h0M574.6 1219.5h0M575.2 1256.9h0M575.8 1225.6h0M576.4 1246.5h0M577 1240.3h0M577.6 1241.3h0M578.2 1230.4h0M578.8 1238.8h0M579.4 1132.2h0M580 1216.1h0M580.6 1206.8h0M581.2 1260.5h0M581.8 1215.8h0M582.4 1247h0M583 1234.8h0M583.6 1160.9h0M584.2 1235.3h0M584.8 1255.5h0M585.4 1220.4h0M586 1271.9h0M586.6 1236.1h0M587.3 1223.5h0M587.9 1237h0M588.5 1261.6h0M589.1 1249h0M589.7 1232.5h0M590.3 1236.7h0M590.9 1258.2h0M591.5 1242h0M592.1 1211.4h0M592.7 1210.2h0M593.3 1214.1h0M593.9 1169.9h0M594.5 1232.9h0M595.1 1261.4h0M595.7 1198.6h0M596.3 1261.5h0M596.9 1231.8h0M597.5 1186.3h0M598.1 1124.3h0M598.7 1199h0M599.3 1238.2h0M599.9 1164.7h0M600.5 1215.4h0M601.1 1210.8h0M601.7 1201.3h0M602.3 1251.6h0M602.9 1243.5h0M603.5 1264.6h0M604.1 1257.4h0M604.7 1253.4h0M605.3 1257h0M605.9 1233.8h0M606.5 1241.2h0M607.1 1213.2h0M607.7 1228.5h0M608.3 1241.7h0M608.9 1227.9h0M609.5 1245.1h0M610.1 1234.4h0M610.7 1226.9h0M611.3 1234.6h0M611.9 1205.5h0M612.5 1227.3h0M613.1 1172.9h0M613.7 1201.6h0M614.3 1256.6h0M614.9 1217.3h0M615.5 1253.5h0M616.1 1187.6h0M616.7 1206.6h0M617.3 1251h0M617.9 1237.4h0M618.5 1249.7h0M619.1 1229.2h0M619.7 1218.4h0M620.3 1149.4h0M620.9 1263.1h0M621.5 1195.9h0M622.1 1239.9h0M622.7 1236.5h0M623.3 1206.3h0M623.9 1215.1h0M624.5 1218h0M625.1 1232.1h0M625.7 1228h0M626.3 1221.7h0M626.9 1259.6h0M627.5 1255h0M628.1 1238h0M628.7 1251.5h0M629.3 1246.7h0M629.9 1243.8h0M630.5 1199.9h0M631.1 1165.4h0M631.7 1192.2h0M632.3 1259.3h0M632.9 1226h0M633.5 1249.6h0M634.1 1208.7h0M634.7 1162.3h0M635.3 1245h0M635.9 1206.2h0M636.5 1230.8h0M637.1 1107.7h0M637.7 1262.2h0M638.3 1223.7h0M638.9 1214h0M639.5 1162.2h0M640.1 1235h0M640.7 1224.7h0M641.3 1221.7h0M642 1200.7h0M642.6 1224.8h0M643.2 1248.7h0M643.8 1256.9h0M644.4 1217.9h0M645 1218.6h0M645.6 1251.6h0M646.2 1227.6h0M646.8 1258.4h0M647.4 1262.4h0M648 1232.5h0M648.6 1236.6h0M649.2 1244.3h0M649.8 1189.1h0M650.4 1228.2h0M651 1123.1h0M651.6 1239.5h0M652.2 1208.8h0M652.8 1251.4h0M653.4 1222.3h0M654 1214.2h0M654.6 1218.8h0M655.2 1213.3h0M655.8 1260.7h0M656.4 1224.7h0M657 1250.4h0M657.6 1224.6h0M658.2 1218.1h0M658.8 1235.1h0M659.4 1238.7h0M660 1249.4h0M660.6 1203.2h0M661.2 1196.9h0M661.8 1208.2h0M662.4 1150.8h0M663 1154.9h0M663.6 1247.2h0M664.2 1197.5h0M664.8 1236.5h0M665.4 1243.4h0M666 1230.2h0M666.6 1196.5h0M667.2 1227h0M667.8 1194h0M668.4 1210.8h0M669 1210.6h0M669.6 1181.2h0M670.2 1241.2h0M670.8 1193h0M671.4 1225.4h0M672 1254.5h0M672.6 1215.7h0M673.2 1231.4h0M673.8 1180.5h0M674.4 1237.2h0M675 1228.5h0M675.6 1217.3h0M676.2 1260.7h0M676.8 1214.8h0M677.4 1246.4h0M678 1189.5h0M678.6 1181.1h0M679.2 1227h0M679.8 1266.6h0M680.4 1222.7h0M681 1222.8h0M681.6 1209.2h0M682.2 1214.4h0M682.8 1249.7h0M683.4 1229.8h0M684 1245.1h0M684.6 1177.3h0M685.2 1241.1h0M685.8 1240.1h0M686.4 1227.7h0M687 1250.4h0M687.6 1207.5h0M688.2 1229.6h0M688.8 1241.4h0M689.4 1232h0M690 1194.3h0M690.6 1208h0M691.2 1261.6h0M691.8 1235.6h0M692.4 1192.2h0M693 1239.9h0M693.6 1229.2h0M694.2 1227.1h0M694.8 1213.9h0M695.4 1232.2h0M696 1229.6h0M696.6 1243.7h0M697.3 1211.3h0M697.9 1244.9h0M698.5 1178.2h0M699.1 1226.8h0M699.7 1231.2h0M700.3 1207h0M700.9 1228.2h0M701.5 1224.3h0M702.1 1227.5h0M702.7 1193h0M703.3 1244.7h0M703.9 1246.8h0M704.5 1169.3h0M705.1 1239.3h0M705.7 1234.9h0M706.3 1240h0M706.9 1209.2h0M707.5 1273.1h0M708.1 1244.7h0M708.7 1213h0M709.3 1223.5h0M709.9 1213.5h0M710.5 1214.1h0M711.1 1259.9h0M711.7 1205.4h0M712.3 1221h0M712.9 1245.9h0M713.5 1182.4h0M714.1 1204.9h0M714.7 1195.9h0M715.3 1263.6h0M715.9 1234.6h0M716.5 1241.8h0M717.1 1197.8h0M717.7 1190h0M718.3 1260h0M718.9 1225.1h0M719.5 1228.7h0M720.1 1200.5h0M720.7 1226.8h0M721.3 1159.5h0M721.9 1230.1h0M722.5 1246.4h0M723.1 1241.7h0M723.7 1224.9h0M724.3 1236h0M724.9 1219.3h0M725.5 1254.2h0M726.1 1155.6h0M726.7 1192.6h0M727.3 1208.1h0M727.9 1250.6h0M728.5 1263.3h0M729.1 1243.1h0M729.7 1233.1h0M730.3 1159h0M730.9 1260.3h0M731.5 1236.7h0M732.1 1194h0M732.7 1193.6h0M733.3 1225h0M733.9 1193.7h0M734.5 1217.8h0M735.1 1239.1h0M735.7 1248.5h0M736.3 1228.2h0M736.9 1200.1h0M737.5 1251.4h0M738.1 1134.1h0M738.7 1212.2h0M739.3 1270h0M739.9 1173.7h0M740.5 1234.8h0M741.1 1207.3h0M741.7 1172.3h0M742.3 1252.8h0M742.9 1173h0M743.5 1158h0M744.1 1231.5h0M744.7 1228.1h0M745.3 1220h0M745.9 1198.1h0M746.5 1189.9h0M747.1 1222.7h0M747.7 1232.5h0M748.3 1226h0M748.9 1218.1h0M749.5 1155.8h0M750.1 1222h0M750.7 1116.1h0M751.3 1184.1h0M752 1212.3h0M752.6 1121.5h0M753.2 1190.9h0M753.8 1210.9h0M754.4 1243h0M755 1239.8h0M755.6 1228.5h0M756.2 1217.7h0M756.8 1233h0M757.4 1144.9h0M758 1240.2h0M758.6 1202h0M759.2 1203.9h0M759.8 1251.7h0M760.4 1209.3h0M761 1255.9h0M761.6 1236.8h0M762.2 1097h0M762.8 1223.3h0M763.4 1210h0M764 1237.2h0M764.6 1248.5h0M765.2 1258.6h0M765.8 1225.7h0M766.4 1230.8h0M767 1142.8h0M767.6 1255.2h0M768.2 1205.6h0M768.8 1188.6h0M769.4 1259.9h0M770 1208.4h0M770.6 1132.3h0M771.2 1201.3h0M771.8 1184.1h0M772.4 1224.6h0M773 1233.7h0M773.6 1239h0M774.2 1233.8h0M774.8 1194.8h0M775.4 1228.5h0M776 1227.5h0M776.6 1215.1h0M777.2 1203.6h0M777.8 1255h0M778.4 1223h0M779 1244.8h0M779.6 1212.3h0M780.2 1197.4h0M780.8 1216.9h0M781.4 1259.2h0M782 1244.3h0M782.6 1206.4h0M783.2 1175h0M783.8 1222.8h0M784.4 1221.9h0M785 1228.5h0M785.6 1257.4h0M786.2 1225.8h0M786.8 1204.9h0M787.4 1209.2h0M788 1212.6h0M788.6 1193.2h0M789.2 1218.5h0M789.8 1258.1h0M790.4 1227.8h0M791 1251.5h0M791.6 1198.9h0M792.2 1184.5h0M792.8 1224.5h0M793.4 1213.1h0M794 1251.7h0M794.6 1072h0M795.2 1240.9h0M795.8 1229.4h0M796.4 1252.7h0M797 1220h0M797.6 1216.2h0M798.2 1193.9h0M798.8 1180.4h0M799.4 1203.1h0M800 1231.7h0M800.6 1221.1h0M801.2 1208.7h0M801.8 1244.7h0M802.4 1187.5h0M803 1200.3h0M803.6 1228.5h0M804.2 1237h0M804.8 1293.8h0M805.4 1248.3h0M806 1199.1h0M806.7 1171.3h0M807.3 1251.7h0M807.9 1214.4h0M808.5 1205.6h0M809.1 1242.1h0M809.7 1205.2h0M810.3 1135.7h0M810.9 1236.9h0M811.5 1209.4h0M812.1 1134.1h0M812.7 1166.6h0M813.3 1246.3h0M813.9 1195.6h0M814.5 1234.5h0M815.1 1215.6h0M815.7 1243.1h0M816.3 1143.5h0M816.9 1195.8h0M817.5 1170.2h0M818.1 1202.9h0M818.7 1189.7h0M819.3 1219.2h0M819.9 1213.5h0M820.5 1194.2h0M821.1 1218.9h0M821.7 1226.1h0M822.3 1249.7h0M822.9 1229.5h0M823.5 1194.1h0M824.1 1202.7h0M824.7 1214.1h0M825.3 1225.7h0M825.9 1171.5h0M826.5 1241.3h0M827.1 1238.2h0M827.7 1211.3h0M828.3 1228.2h0M828.9 1192.3h0M829.5 1244.5h0M830.1 1091.8h0M830.7 1204.8h0M831.3 1232.3h0M831.9 1224.9h0M832.5 1031.2h0M833.1 1137.9h0M833.7 1207.2h0M834.3 1173.6h0M834.9 1219.2h0M835.5 1196.7h0M836.1 1235.2h0M836.7 1237.2h0M837.3 1202.7h0M837.9 1176.6h0M838.5 1177.3h0M839.1 1235h0M839.7 1190.2h0M840.3 1225.4h0M840.9 1192.8h0M841.5 1228.8h0M842.1 1196.2h0M842.7 1224.1h0M843.3 1211.1h0M843.9 1222.5h0M844.5 1214.1h0M845.1 1234.1h0M845.7 1248.7h0M846.3 1171.7h0M846.9 1230.1h0M847.5 1255.8h0M848.1 1275.2h0M848.7 1269h0M849.3 1234.5h0M849.9 1182.8h0M850.5 1127.2h0M851.1 1228.3h0M851.7 1255.9h0M852.3 1190.8h0M852.9 1203.6h0M853.5 1212.8h0M854.1 1182.6h0M854.7 1172.4h0M855.3 1192.7h0M855.9 1233.4h0M856.5 1247.4h0M857.1 1242.4h0M857.7 1254.3h0M858.3 1166h0M858.9 1224.7h0M859.5 1217.1h0M860.1 1215.4h0M860.7 1083.5h0M861.3 1232.6h0M862 1187.1h0M862.6 1205.5h0M863.2 1223.4h0M863.8 1256.5h0M864.4 1194.9h0M865 1236h0M865.6 1230.1h0M866.2 1214h0M866.8 1217.2h0M867.4 1188.2h0M868 1234.3h0M868.6 1215.2h0M869.2 1230.9h0M869.8 1218.5h0M870.4 1184.5h0M871 1224.9h0M871.6 1184.7h0M872.2 1234.5h0M872.8 1248h0M873.4 1219.3h0M874 1184.5h0M874.6 1196.4h0M875.2 1231.8h0M875.8 1225.3h0M876.4 1212.6h0M877 1220.7h0M877.6 1229.1h0M878.2 1262.8h0M878.8 1169.2h0M879.4 1198.4h0M880 1233.2h0M880.6 1169.3h0M881.2 1196.3h0M881.8 1096.3h0M882.4 1236.8h0M883 1248.8h0M883.6 1183.3h0M884.2 997.4h0M884.8 1151.6h0M885.4 1191.8h0M886 1207.5h0M886.6 1182.4h0M887.2 1228.4h0M887.8 1203.6h0M888.4 1131.8h0M889 1125.9h0M340 941.5h0M370.4 927h0M400 1018h0M413.6 1049.5h0M520 1049h0M529.6 1084h0M703 912h0M718.4 947.6h0M760 965h0M716 1043h0M716 1059h0M822.4 912h0M814.4 977h0M749.6 990h0M887 881h0M240 1063.8h0M260 1080.6h0M242.4 1115.6h0M266.4 1121.6h0M292.8 1120h0M283 1124h0M586.4 1097.6h0M625.6 1067.8h0M623.2 1100.8h0M656 1098.4h0M667.2 1126.4h0M845.6 1085.6h0M857.6 1077.6h0M872.8 1076h0M839.2 1105.6h0M856 1088h0M780 1119h0M884 1150h0M885 1158h0M886 1165h0M883 1162h0M888 1137h0M887 1150h0" stroke="#C00000" stroke-width="6" stroke-linecap="round" fill="none"/><path d="M120.2 1317h0M120.8 1317h0M121.4 1316.8h0M122 1316.6h0M122.6 1316.4h0M123.2 1316h0M123.8 1315.6h0M124.4 1315.1h0M125 1313.9h0M125.6 1312.3h0M126.2 1310.5h0M126.8 1308.6h0M127.4 1306.7h0M128 1304.5h0M128.6 1302.2h0M129.2 1299.9h0M129.8 1297.6h0M130.4 1295.6h0M131 1293.5h0M131.6 1291.5h0M132.2 1289.5h0M132.8 1287.6h0M133.4 1285.7h0M134 1283.9h0M134.6 1282.1h0M135.2 1280.3h0M135.8 1278.7h0M136.4 1277h0M137 1275.4h0M137.6 1273.8h0M138.2 1272.2h0M138.8 1270.7h0M139.4 1269.3h0M140 1267.9h0M140.6 1266.6h0M141.2 1265.2h0M141.8 1263.9h0M142.4 1262.6h0M143 1261.4h0M143.6 1260.2h0M144.2 1259h0M144.8 1257.9h0M145.4 1256.9h0M146 1255.9h0M146.6 1255h0M147.2 1254.1h0M147.9 1253.2h0M148.5 1252.3h0M149.1 1251.5h0M149.7 1250.7h0M150.3 1249.9h0M150.9 1249.2h0M151.5 1248.4h0M152.1 1247.8h0M152.7 1247.2h0M153.3 1246.6h0M153.9 1246.1h0M154.5 1245.6h0M155.1 1245.2h0M155.7 1244.7h0M156.3 1244.3h0M156.9 1243.9h0M157.5 1243.5h0M158.1 1243.1h0M158.7 1242.7h0M159.3 1242.3h0M159.9 1242h0M160.5 1241.7h0M161.1 1241.4h0M161.7 1241.2h0M162.3 1241h0M162.9 1240.8h0M163.5 1240.6h0M164.1 1240.5h0M164.7 1240.4h0M165.3 1240.3h0M165.9 1240.2h0M166.5 1240.1h0M167.1 1240h0M167.7 1239.9h0M168.3 1239.8h0M168.9 1239.8h0M169.5 1239.7h0M170.1 1239.6h0M170.7 1239.5h0M171.3 1239.5h0M171.9 1239.4h0M172.5 1239.4h0M173.1 1239.3h0M173.7 1239.3h0M174.3 1239.2h0M174.9 1239.2h0M175.5 1239.1h0M176.1 1239.1h0M176.7 1239.1h0M177.3 1239h0M177.9 1239h0M178.5 1239h0M179.1 1238.9h0M179.7 1238.9h0M180.3 1238.9h0M180.9 1238.9h0M181.5 1238.9h0M182.1 1238.8h0M182.7 1238.8h0M183.3 1238.8h0M183.9 1238.8h0M184.5 1238.8h0M185.1 1238.8h0M185.7 1238.7h0M186.3 1238.7h0M186.9 1238.7h0M187.5 1238.7h0M188.1 1238.7h0M188.7 1238.7h0M189.3 1238.7h0M189.9 1238.7h0M190.5 1238.7h0M191.1 1238.6h0M191.7 1238.6h0M192.3 1238.6h0M192.9 1238.6h0M193.5 1238.6h0M194.1 1238.6h0M194.7 1238.6h0M195.3 1238.6h0M195.9 1238.6h0M196.5 1238.6h0M197.1 1238.6h0M197.7 1238.5h0M198.3 1238.5h0M198.9 1238.5h0M199.5 1238.5h0M200.1 1238.5h0M200.7 1238.5h0M201.3 1238.5h0M201.9 1238.5h0M202.5 1238.4h0M203.2 1238.4h0M203.8 1238.4h0M204.4 1238.4h0M205 1238.4h0M205.6 1238.4h0M206.2 1238.4h0M206.8 1238.4h0M207.4 1238.3h0M208 1238.3h0M208.6 1238.3h0M209.2 1238.3h0M209.8 1238.3h0M210.4 1238.3h0M211 1238.3h0M211.6 1238.3h0M212.2 1238.2h0M212.8 1238.2h0M213.4 1238.2h0M214 1238.2h0M214.6 1238.2h0M215.2 1238.2h0M215.8 1238.2h0M216.4 1238.2h0M217 1238.1h0M217.6 1238.1h0M218.2 1238.1h0M218.8 1238.1h0M219.4 1238.1h0M220 1238.1h0M220.6 1238.1h0M221.2 1238.1h0M221.8 1238h0M222.4 1238h0M223 1238h0M223.6 1238h0M224.2 1238h0M224.8 1238h0M225.4 1238h0M226 1238h0M226.6 1237.9h0M227.2 1237.9h0M227.8 1237.9h0M228.4 1237.9h0M229 1237.9h0M229.6 1237.9h0M230.2 1237.9h0M230.8 1237.9h0M231.4 1237.8h0M232 1237.8h0M232.6 1237.8h0M233.2 1237.8h0M233.8 1237.8h0M234.4 1237.8h0M235 1237.8h0M235.6 1237.8h0M236.2 1237.7h0M236.8 1237.7h0M237.4 1237.7h0M238 1237.7h0M238.6 1237.7h0M239.2 1237.7h0M239.8 1237.7h0M240.4 1237.7h0M241 1237.6h0M241.6 1237.6h0M242.2 1237.6h0M242.8 1237.6h0M243.4 1237.6h0M244 1237.6h0M244.6 1237.6h0M245.2 1237.6h0M245.8 1237.5h0M246.4 1237.5h0M247 1237.5h0M247.6 1237.5h0M248.2 1237.5h0M248.8 1237.5h0M249.4 1237.5h0M250 1237.5h0M250.6 1237.4h0M251.2 1237.4h0M251.8 1237.4h0M252.4 1237.4h0M253 1237.4h0M253.6 1237.4h0M254.2 1237.4h0M254.8 1237.4h0M255.4 1237.3h0M256 1237.3h0M256.6 1237.3h0M257.2 1237.3h0M257.9 1237.3h0M258.5 1237.3h0M259.1 1237.3h0M259.7 1237.2h0M260.3 1237.2h0M260.9 1237.2h0M261.5 1237.2h0M262.1 1237.2h0M262.7 1237.2h0M263.3 1237.2h0M263.9 1237.2h0M264.5 1237.1h0M265.1 1237.1h0M265.7 1237.1h0M266.3 1237.1h0M266.9 1237.1h0M267.5 1237.1h0M268.1 1237.1h0M268.7 1237.1h0M269.3 1237h0M269.9 1237h0M270.5 1237h0M271.1 1237h0M271.7 1237h0M272.3 1237h0M272.9 1237h0M273.5 1237h0M274.1 1236.9h0M274.7 1236.9h0M275.3 1236.9h0M275.9 1236.9h0M276.5 1236.9h0M277.1 1236.9h0M277.7 1236.9h0M278.3 1236.9h0M278.9 1236.8h0M279.5 1236.8h0M280.1 1236.8h0M280.7 1236.8h0M281.3 1236.8h0M281.9 1236.8h0M282.5 1236.8h0M283.1 1236.7h0M283.7 1236.7h0M284.3 1236.7h0M284.9 1236.7h0M285.5 1236.7h0M286.1 1236.7h0M286.7 1236.7h0M287.3 1236.7h0M287.9 1236.6h0M288.5 1236.6h0M289.1 1236.6h0M289.7 1236.6h0M290.3 1236.6h0M290.9 1236.6h0M291.5 1236.6h0M292.1 1236.6h0M292.7 1236.5h0M293.3 1236.5h0M293.9 1236.5h0M294.5 1236.5h0M295.1 1236.5h0M295.7 1236.5h0M296.3 1236.5h0M296.9 1236.4h0M297.5 1236.4h0M298.1 1236.4h0M298.7 1236.4h0M299.3 1236.4h0M299.9 1236.4h0M300.5 1236.4h0M301.1 1236.4h0M301.7 1236.3h0M302.3 1236.3h0M302.9 1236.3h0M303.5 1236.3h0M304.1 1236.3h0M304.7 1236.3h0M305.3 1236.3h0M305.9 1236.3h0M306.5 1236.2h0M307.1 1236.2h0M307.7 1236.2h0M308.3 1236.2h0M308.9 1236.2h0M309.5 1236.2h0M310.1 1236.2h0M310.7 1236.1h0M311.3 1236.1h0M311.9 1236.1h0M312.6 1236.1h0M313.2 1236.1h0M313.8 1236.1h0M314.4 1236.1h0M315 1236.1h0M315.6 1236h0M316.2 1236h0M316.8 1236h0M317.4 1236h0M318 1236h0M318.6 1236h0M319.2 1236h0M319.8 1236h0M320.4 1235.9h0M321 1235.9h0M321.6 1235.9h0M322.2 1235.9h0M322.8 1235.9h0M323.4 1235.9h0M324 1235.9h0M324.6 1235.8h0M325.2 1235.8h0M325.8 1235.8h0M326.4 1235.8h0M327 1235.8h0M327.6 1235.8h0M328.2 1235.8h0M328.8 1235.8h0M329.4 1235.7h0M330 1235.7h0M330.6 1235.7h0M331.2 1235.7h0M331.8 1235.7h0M332.4 1235.7h0M333 1235.7h0M333.6 1235.7h0M334.2 1235.6h0M334.8 1235.6h0M335.4 1235.6h0M336 1235.6h0M336.6 1235.6h0M337.2 1235.6h0M337.8 1235.6h0M338.4 1235.5h0M339 1235.5h0M339.6 1235.5h0M340.2 1235.5h0M340.8 1235.5h0M341.4 1235.5h0M342 1235.5h0M342.6 1235.5h0M343.2 1235.4h0M343.8 1235.4h0M344.4 1235.4h0M345 1235.4h0M345.6 1235.4h0M346.2 1235.4h0M346.8 1235.4h0M347.4 1235.3h0M348 1235.3h0M348.6 1235.3h0M349.2 1235.3h0M349.8 1235.3h0M350.4 1235.3h0M351 1235.3h0M351.6 1235.3h0M352.2 1235.2h0M352.8 1235.2h0M353.4 1235.2h0M354 1235.2h0M354.6 1235.2h0M355.2 1235.2h0M355.8 1235.2h0M356.4 1235.2h0M357 1235.1h0M357.6 1235.1h0M358.2 1235.1h0M358.8 1235.1h0M359.4 1235.1h0M360 1235.1h0M360.6 1235.1h0M361.2 1235h0M361.8 1235h0M362.4 1235h0M363 1235h0M363.6 1235h0M364.2 1235h0M364.8 1235h0M365.4 1235h0M366 1234.9h0M366.6 1234.9h0M367.2 1234.9h0M367.9 1234.9h0M368.5 1234.9h0M369.1 1234.9h0M369.7 1234.9h0M370.3 1234.8h0M370.9 1234.8h0M371.5 1234.8h0M372.1 1234.8h0M372.7 1234.8h0M373.3 1234.8h0M373.9 1234.8h0M374.5 1234.8h0M375.1 1234.7h0M375.7 1234.7h0M376.3 1234.7h0M376.9 1234.7h0M377.5 1234.7h0M378.1 1234.7h0M378.7 1234.7h0M379.3 1234.6h0M379.9 1234.6h0M380.5 1234.6h0M381.1 1234.6h0M381.7 1234.6h0M382.3 1234.6h0M382.9 1234.6h0M383.5 1234.6h0M384.1 1234.5h0M384.7 1234.5h0M385.3 1234.5h0M385.9 1234.5h0M386.5 1234.5h0M387.1 1234.5h0M387.7 1234.5h0M388.3 1234.4h0M388.9 1234.4h0M389.5 1234.4h0M390.1 1234.4h0M390.7 1234.4h0M391.3 1234.4h0M391.9 1234.4h0M392.5 1234.4h0M393.1 1234.3h0M393.7 1234.3h0M394.3 1234.3h0M394.9 1234.3h0M395.5 1234.3h0M396.1 1234.3h0M396.7 1234.3h0M397.3 1234.3h0M397.9 1234.2h0M398.5 1234.2h0M399.1 1234.2h0M399.7 1234.2h0M400.3 1234.2h0M400.9 1234.2h0M401.5 1234.2h0M402.1 1234.1h0M402.7 1234.1h0M403.3 1234.1h0M403.9 1234.1h0M404.5 1234.1h0M405.1 1234.1h0M405.7 1234.1h0M406.3 1234.1h0M406.9 1234h0M407.5 1234h0M408.1 1234h0M408.7 1234h0M409.3 1234h0M409.9 1234h0M410.5 1234h0M411.1 1233.9h0M411.7 1233.9h0M412.3 1233.9h0M412.9 1233.9h0M413.5 1233.9h0M414.1 1233.9h0M414.7 1233.9h0M415.3 1233.9h0M415.9 1233.8h0M416.5 1233.8h0M417.1 1233.8h0M417.7 1233.8h0M418.3 1233.8h0M418.9 1233.8h0M419.5 1233.8h0M420.1 1233.7h0M420.7 1233.7h0M421.3 1233.7h0M421.9 1233.7h0M422.6 1233.7h0M423.2 1233.7h0M423.8 1233.7h0M424.4 1233.7h0M425 1233.6h0M425.6 1233.6h0M426.2 1233.6h0M426.8 1233.6h0M427.4 1233.6h0M428 1233.6h0M428.6 1233.6h0M429.2 1233.5h0M429.8 1233.5h0M430.4 1233.5h0M431 1233.5h0M431.6 1233.5h0M432.2 1233.5h0M432.8 1233.5h0M433.4 1233.5h0M434 1233.4h0M434.6 1233.4h0M435.2 1233.4h0M435.8 1233.4h0M436.4 1233.4h0M437 1233.4h0M437.6 1233.4h0M438.2 1233.4h0M438.8 1233.3h0M439.4 1233.3h0M440 1233.3h0M440.6 1233.3h0M441.2 1233.3h0M441.8 1233.3h0M442.4 1233.3h0M443 1233.2h0M443.6 1233.2h0M444.2 1233.2h0M444.8 1233.2h0M445.4 1233.2h0M446 1233.2h0M446.6 1233.2h0M447.2 1233.2h0M447.8 1233.1h0M448.4 1233.1h0M449 1233.1h0M449.6 1233.1h0M450.2 1233.1h0M450.8 1233.1h0M451.4 1233.1h0M452 1233h0M452.6 1233h0M453.2 1233h0M453.8 1233h0M454.4 1233h0M455 1233h0M455.6 1233h0M456.2 1233h0M456.8 1232.9h0M457.4 1232.9h0M458 1232.9h0M458.6 1232.9h0M459.2 1232.9h0M459.8 1232.9h0M460.4 1232.9h0M461 1232.8h0M461.6 1232.8h0M462.2 1232.8h0M462.8 1232.8h0M463.4 1232.8h0M464 1232.8h0M464.6 1232.8h0M465.2 1232.8h0M465.8 1232.7h0M466.4 1232.7h0M467 1232.7h0M467.6 1232.7h0M468.2 1232.7h0M468.8 1232.7h0M469.4 1232.7h0M470 1232.7h0M470.6 1232.6h0M471.2 1232.6h0M471.8 1232.6h0M472.4 1232.6h0M473 1232.6h0M473.6 1232.6h0M474.2 1232.6h0M474.8 1232.5h0M475.4 1232.5h0M476 1232.5h0M476.6 1232.5h0M477.3 1232.5h0M477.9 1232.5h0M478.5 1232.5h0M479.1 1232.5h0M479.7 1232.4h0M480.3 1232.4h0M480.9 1232.4h0M481.5 1232.4h0M482.1 1232.4h0M482.7 1232.4h0M483.3 1232.4h0M483.9 1232.4h0M484.5 1232.3h0M485.1 1232.3h0M485.7 1232.3h0M486.3 1232.3h0M486.9 1232.3h0M487.5 1232.3h0M488.1 1232.3h0M488.7 1232.2h0M489.3 1232.2h0M489.9 1232.2h0M490.5 1232.2h0M491.1 1232.2h0M491.7 1232.2h0M492.3 1232.2h0M492.9 1232.2h0M493.5 1232.1h0M494.1 1232.1h0M494.7 1232.1h0M495.3 1232.1h0M495.9 1232.1h0M496.5 1232.1h0M497.1 1232.1h0M497.7 1232.1h0M498.3 1232h0M498.9 1232h0M499.5 1232h0M500.1 1232h0M500.7 1232h0M501.3 1232h0M501.9 1232h0M502.5 1231.9h0M503.1 1231.9h0M503.7 1231.9h0M504.3 1231.9h0M504.9 1231.9h0M505.5 1231.9h0M506.1 1231.9h0M506.7 1231.9h0M507.3 1231.8h0M507.9 1231.8h0M508.5 1231.8h0M509.1 1231.8h0M509.7 1231.8h0M510.3 1231.8h0M510.9 1231.8h0M511.5 1231.8h0M512.1 1231.7h0M512.7 1231.7h0M513.3 1231.7h0M513.9 1231.7h0M514.5 1231.7h0M515.1 1231.7h0M515.7 1231.7h0M516.3 1231.7h0M516.9 1231.6h0M517.5 1231.6h0M518.1 1231.6h0M518.7 1231.6h0M519.3 1231.6h0M519.9 1231.6h0M520.5 1231.6h0M521.1 1231.6h0M521.7 1231.5h0M522.3 1231.5h0M522.9 1231.5h0M523.5 1231.5h0M524.1 1231.5h0M524.7 1231.5h0M525.3 1231.5h0M525.9 1231.5h0M526.5 1231.4h0M527.1 1231.4h0M527.7 1231.4h0M528.3 1231.4h0M528.9 1231.4h0M529.5 1231.4h0M530.1 1231.4h0M530.7 1231.4h0M531.3 1231.4h0M531.9 1231.3h0M532.6 1231.3h0M533.2 1231.3h0M533.8 1231.3h0M534.4 1231.3h0M535 1231.3h0M535.6 1231.3h0M536.2 1231.3h0M536.8 1231.2h0M537.4 1231.2h0M538 1231.2h0M538.6 1231.2h0M539.2 1231.2h0M539.8 1231.2h0M540.4 1231.2h0M541 1231.2h0M541.6 1231.2h0M542.2 1231.1h0M542.8 1231.1h0M543.4 1231.1h0M544 1231.1h0M544.6 1231.1h0M545.2 1231.1h0M545.8 1231.1h0M546.4 1231.1h0M547 1231.1h0M547.6 1231h0M548.2 1231h0M548.8 1231h0M549.4 1231h0M550 1231h0M550.6 1231h0M551.2 1231h0M551.8 1231h0M552.4 1230.9h0M553 1230.9h0M553.6 1230.9h0M554.2 1230.9h0M554.8 1230.9h0M555.4 1230.9h0M556 1230.9h0M556.6 1230.9h0M557.2 1230.9h0M557.8 1230.8h0M558.4 1230.8h0M559 1230.8h0M559.6 1230.8h0M560.2 1230.8h0M560.8 1230.8h0M561.4 1230.8h0M562 1230.8h0M562.6 1230.8h0M563.2 1230.7h0M563.8 1230.7h0M564.4 1230.7h0M565 1230.7h0M565.6 1230.7h0M566.2 1230.7h0M566.8 1230.7h0M567.4 1230.7h0M568 1230.7h0M568.6 1230.6h0M569.2 1230.6h0M569.8 1230.6h0M570.4 1230.6h0M571 1230.6h0M571.6 1230.6h0M572.2 1230.6h0M572.8 1230.6h0M573.4 1230.6h0M574 1230.6h0M574.6 1230.5h0M575.2 1230.5h0M575.8 1230.5h0M576.4 1230.5h0M577 1230.5h0M577.6 1230.5h0M578.2 1230.5h0M578.8 1230.5h0M579.4 1230.5h0M580 1230.4h0M580.6 1230.4h0M581.2 1230.4h0M581.8 1230.4h0M582.4 1230.4h0M583 1230.4h0M583.6 1230.4h0M584.2 1230.4h0M584.8 1230.4h0M585.4 1230.3h0M586 1230.3h0M586.6 1230.3h0M587.3 1230.3h0M587.9 1230.3h0M588.5 1230.3h0M589.1 1230.3h0M589.7 1230.3h0M590.3 1230.3h0M590.9 1230.2h0M591.5 1230.2h0M592.1 1230.2h0M592.7 1230.2h0M593.3 1230.2h0M593.9 1230.2h0M594.5 1230.2h0M595.1 1230.2h0M595.7 1230.2h0M596.3 1230.2h0M596.9 1230.1h0M597.5 1230.1h0M598.1 1230.1h0M598.7 1230.1h0M599.3 1230.1h0M599.9 1230.1h0M600.5 1230.1h0M601.1 1230.1h0M601.7 1230.1h0M602.3 1230h0M602.9 1230h0M603.5 1230h0M604.1 1230h0M604.7 1230h0M605.3 1230h0M605.9 1230h0M606.5 1230h0M607.1 1230h0M607.7 1229.9h0M608.3 1229.9h0M608.9 1229.9h0M609.5 1229.9h0M610.1 1229.9h0M610.7 1229.9h0M611.3 1229.9h0M611.9 1229.9h0M612.5 1229.9h0M613.1 1229.8h0M613.7 1229.8h0M614.3 1229.8h0M614.9 1229.8h0M615.5 1229.8h0M616.1 1229.8h0M616.7 1229.8h0M617.3 1229.8h0M617.9 1229.8h0M618.5 1229.8h0M619.1 1229.7h0M619.7 1229.7h0M620.3 1229.7h0M620.9 1229.7h0M621.5 1229.7h0M622.1 1229.7h0M622.7 1229.7h0M623.3 1229.7h0M623.9 1229.7h0M624.5 1229.6h0M625.1 1229.6h0M625.7 1229.6h0M626.3 1229.6h0M626.9 1229.6h0M627.5 1229.6h0M628.1 1229.6h0M628.7 1229.6h0M629.3 1229.6h0M629.9 1229.5h0M630.5 1229.5h0M631.1 1229.5h0M631.7 1229.5h0M632.3 1229.5h0M632.9 1229.5h0M633.5 1229.5h0M634.1 1229.5h0M634.7 1229.5h0M635.3 1229.4h0M635.9 1229.4h0M636.5 1229.4h0M637.1 1229.4h0M637.7 1229.4h0M638.3 1229.4h0M638.9 1229.4h0M639.5 1229.4h0M640.1 1229.4h0M640.7 1229.3h0M641.3 1229.3h0M642 1229.3h0M642.6 1229.3h0M643.2 1229.3h0M643.8 1229.3h0M644.4 1229.3h0M645 1229.3h0M645.6 1229.3h0M646.2 1229.2h0M646.8 1229.2h0M647.4 1229.2h0M648 1229.2h0M648.6 1229.2h0M649.2 1229.2h0M649.8 1229.2h0M650.4 1229.2h0M651 1229.2h0M651.6 1229.1h0M652.2 1229.1h0M652.8 1229.1h0M653.4 1229.1h0M654 1229.1h0M654.6 1229.1h0M655.2 1229.1h0M655.8 1229.1h0M656.4 1229.1h0M657 1229h0M657.6 1229h0M658.2 1229h0M658.8 1229h0M659.4 1229h0M660 1229h0M660.6 1229h0M661.2 1229h0M661.8 1228.9h0M662.4 1228.9h0M663 1228.9h0M663.6 1228.9h0M664.2 1228.9h0M664.8 1228.9h0M665.4 1228.9h0M666 1228.9h0M666.6 1228.9h0M667.2 1228.8h0M667.8 1228.8h0M668.4 1228.8h0M669 1228.8h0M669.6 1228.8h0M670.2 1228.8h0M670.8 1228.8h0M671.4 1228.8h0M672 1228.7h0M672.6 1228.7h0M673.2 1228.7h0M673.8 1228.7h0M674.4 1228.7h0M675 1228.7h0M675.6 1228.7h0M676.2 1228.7h0M676.8 1228.7h0M677.4 1228.6h0M678 1228.6h0M678.6 1228.6h0M679.2 1228.6h0M679.8 1228.6h0M680.4 1228.6h0M681 1228.6h0M681.6 1228.6h0M682.2 1228.5h0M682.8 1228.5h0M683.4 1228.5h0M684 1228.5h0M684.6 1228.5h0M685.2 1228.5h0M685.8 1228.5h0M686.4 1228.5h0M687 1228.4h0M687.6 1228.4h0M688.2 1228.4h0M688.8 1228.4h0M689.4 1228.4h0M690 1228.4h0M690.6 1228.4h0M691.2 1228.4h0M691.8 1228.3h0M692.4 1228.3h0M693 1228.3h0M693.6 1228.3h0M694.2 1228.3h0M694.8 1228.3h0M695.4 1228.3h0M696 1228.3h0M696.6 1228.2h0M697.3 1228.2h0M697.9 1228.2h0M698.5 1228.2h0M699.1 1228.2h0M699.7 1228.2h0M700.3 1228.2h0M700.9 1228.1h0M701.5 1228.1h0M702.1 1228.1h0M702.7 1228.1h0M703.3 1228.1h0M703.9 1228.1h0M704.5 1228.1h0M705.1 1228.1h0M705.7 1228h0M706.3 1228h0M706.9 1228h0M707.5 1228h0M708.1 1228h0M708.7 1228h0M709.3 1228h0M709.9 1227.9h0M710.5 1227.9h0M711.1 1227.9h0M711.7 1227.9h0M712.3 1227.9h0M712.9 1227.9h0M713.5 1227.9h0M714.1 1227.9h0M714.7 1227.8h0M715.3 1227.8h0M715.9 1227.8h0M716.5 1227.8h0M717.1 1227.8h0M717.7 1227.8h0M718.3 1227.8h0M718.9 1227.7h0M719.5 1227.7h0M720.1 1227.7h0M720.7 1227.7h0M721.3 1227.7h0M721.9 1227.7h0M722.5 1227.7h0M723.1 1227.6h0M723.7 1227.6h0M724.3 1227.6h0M724.9 1227.6h0M725.5 1227.6h0M726.1 1227.6h0M726.7 1227.6h0M727.3 1227.5h0M727.9 1227.5h0M728.5 1227.5h0M729.1 1227.5h0M729.7 1227.5h0M730.3 1227.5h0M730.9 1227.5h0M731.5 1227.4h0M732.1 1227.4h0M732.7 1227.4h0M733.3 1227.4h0M733.9 1227.4h0M734.5 1227.4h0M735.1 1227.4h0M735.7 1227.3h0M736.3 1227.3h0M736.9 1227.3h0M737.5 1227.3h0M738.1 1227.3h0M738.7 1227.3h0M739.3 1227.2h0M739.9 1227.2h0M740.5 1227.2h0M741.1 1227.2h0M741.7 1227.2h0M742.3 1227.2h0M742.9 1227.2h0M743.5 1227.1h0M744.1 1227.1h0M744.7 1227.1h0M745.3 1227.1h0M745.9 1227.1h0M746.5 1227.1h0M747.1 1227h0M747.7 1227h0M748.3 1227h0M748.9 1227h0M749.5 1227h0M750.1 1227h0M750.7 1227h0M751.3 1226.9h0M752 1226.9h0M752.6 1226.9h0M753.2 1226.9h0M753.8 1226.9h0M754.4 1226.9h0M755 1226.8h0M755.6 1226.8h0M756.2 1226.8h0M756.8 1226.8h0M757.4 1226.8h0M758 1226.8h0M758.6 1226.7h0M759.2 1226.7h0M759.8 1226.7h0M760.4 1226.7h0M761 1226.7h0M761.6 1226.7h0M762.2 1226.6h0M762.8 1226.6h0M763.4 1226.6h0M764 1226.6h0M764.6 1226.6h0M765.2 1226.6h0M765.8 1226.5h0M766.4 1226.5h0M767 1226.5h0M767.6 1226.5h0M768.2 1226.5h0M768.8 1226.5h0M769.4 1226.4h0M770 1226.4h0M770.6 1226.4h0M771.2 1226.4h0M771.8 1226.4h0M772.4 1226.4h0M773 1226.3h0M773.6 1226.3h0M774.2 1226.3h0M774.8 1226.3h0M775.4 1226.3h0M776 1226.2h0M776.6 1226.2h0M777.2 1226.2h0M777.8 1226.2h0M778.4 1226.2h0M779 1226.2h0M779.6 1226.1h0M780.2 1226.1h0M780.8 1226.1h0M781.4 1226.1h0M782 1226.1h0M782.6 1226.1h0M783.2 1226h0M783.8 1226h0M784.4 1226h0M785 1226h0M785.6 1226h0M786.2 1225.9h0M786.8 1225.9h0M787.4 1225.9h0M788 1225.9h0M788.6 1225.9h0M789.2 1225.8h0M789.8 1225.8h0M790.4 1225.8h0M791 1225.8h0M791.6 1225.8h0M792.2 1225.8h0M792.8 1225.7h0M793.4 1225.7h0M794 1225.7h0M794.6 1225.7h0M795.2 1225.7h0M795.8 1225.6h0M796.4 1225.6h0M797 1225.6h0M797.6 1225.6h0M798.2 1225.6h0M798.8 1225.5h0M799.4 1225.5h0M800 1225.5h0M800.6 1225.5h0M801.2 1225.5h0M801.8 1225.4h0M802.4 1225.4h0M803 1225.4h0M803.6 1225.4h0M804.2 1225.4h0M804.8 1225.3h0M805.4 1225.3h0M806 1225.3h0M806.7 1225.3h0M807.3 1225.3h0M807.9 1225.3h0M808.5 1225.2h0M809.1 1225.2h0M809.7 1225.2h0M810.3 1225.2h0M810.9 1225.2h0M811.5 1225.2h0M812.1 1225.1h0M812.7 1225.1h0M813.3 1225.1h0M813.9 1225.1h0M814.5 1225.1h0M815.1 1225.1h0M815.7 1225.1h0M816.3 1225h0M816.9 1225h0M817.5 1225h0M818.1 1225h0M818.7 1225h0M819.3 1225h0M819.9 1224.9h0M820.5 1224.9h0M821.1 1224.9h0M821.7 1224.9h0M822.3 1224.9h0M822.9 1224.9h0M823.5 1224.8h0M824.1 1224.8h0M824.7 1224.8h0M825.3 1224.8h0M825.9 1224.8h0M826.5 1224.7h0M827.1 1224.7h0M827.7 1224.7h0M828.3 1224.7h0M828.9 1224.7h0M829.5 1224.7h0M830.1 1224.6h0M830.7 1224.6h0M831.3 1224.6h0M831.9 1224.6h0M832.5 1224.6h0M833.1 1224.5h0M833.7 1224.5h0M834.3 1224.5h0M834.9 1224.5h0M835.5 1224.4h0M836.1 1224.4h0M836.7 1224.4h0M837.3 1224.4h0M837.9 1224.3h0M838.5 1224.3h0M839.1 1224.3h0M839.7 1224.3h0M840.3 1224.2h0M840.9 1224.2h0M841.5 1224.2h0M842.1 1224.2h0M842.7 1224.1h0M843.3 1224.1h0M843.9 1224.1h0M844.5 1224h0M845.1 1224h0M845.7 1224h0M846.3 1223.9h0M846.9 1223.9h0M847.5 1223.9h0M848.1 1223.8h0M848.7 1223.8h0M849.3 1223.8h0M849.9 1223.7h0M850.5 1223.7h0M851.1 1223.7h0M851.7 1223.6h0M852.3 1223.6h0M852.9 1223.5h0M853.5 1223.5h0M854.1 1223.4h0M854.7 1223.4h0M855.3 1223.4h0M855.9 1223.3h0M856.5 1223.3h0M857.1 1223.2h0M857.7 1223.2h0M858.3 1223.1h0M858.9 1223.1h0M859.5 1223h0M860.1 1223h0M860.7 1222.9h0M861.3 1222.9h0M862 1222.8h0M862.6 1222.8h0M863.2 1222.7h0M863.8 1222.7h0M864.4 1222.6h0M865 1222.5h0M865.6 1222.5h0M866.2 1222.4h0M866.8 1222.4h0M867.4 1222.3h0M868 1222.2h0M868.6 1222.2h0M869.2 1222.1h0M869.8 1222h0M870.4 1222h0M871 1221.9h0M871.6 1221.7h0M872.2 1221.6h0M872.8 1221.4h0M873.4 1221.2h0M874 1221h0M874.6 1220.7h0M875.2 1220.4h0M875.8 1220.1h0M876.4 1219.8h0M877 1219.4h0M877.6 1219h0M878.2 1218.5h0M878.8 1218h0M879.4 1217.4h0M880 1216.4h0M880.6 1214.9h0M881.2 1212.3h0M881.8 1204.6h0M882.4 1197.6h0M883 1192.1h0M883.6 1188.8h0M884.2 1186h0M884.8 1183.8h0M885.4 1182h0M886 1180.5h0M886.6 1179.2h0M887.2 1178.1h0M887.8 1177.1h0M888.4 1127.5h0M889 1118.8h0" stroke="#92D050" stroke-width="6" stroke-linecap="round" fill="none"/><path d="M160.5 996.8h0M161.1 998.5h0M161.7 1003.8h0M162.3 995.5h0M162.9 1003h0M163.5 994.7h0M164.1 1003.7h0M164.7 1002.8h0M165.3 999.7h0M165.9 997.6h0M166.5 1000h0M167.1 990.7h0M167.7 1000.6h0M168.3 1003.3h0M168.9 1009.2h0M169.5 1000h0M170.1 1001.8h0M170.7 1010.2h0M171.3 1012h0M171.9 1000.1h0M172.5 1008.3h0M173.1 1009h0M173.7 1005.5h0M174.3 997.4h0M174.9 997.6h0M175.5 1005.8h0M176.1 1015.2h0M176.7 1001.7h0M177.3 1011.1h0M177.9 1012.9h0M178.5 996h0M179.1 999.5h0M179.7 1010.8h0M180.3 1007.9h0M180.9 1005.6h0M181.5 1002.6h0M182.1 1006.1h0M182.7 999.3h0M183.3 1016.1h0M183.9 996.5h0M184.5 993h0M185.1 1003.5h0M185.7 1010.5h0M186.3 1000.1h0M186.9 1002.4h0M187.5 997.2h0M188.1 1002.3h0M188.7 997.2h0M189.3 997.3h0M189.9 994.8h0M190.5 999.7h0M191.1 1012.7h0M191.7 1002.4h0M192.3 1003.7h0M192.9 1014.7h0M193.5 999.3h0M194.1 997.3h0M194.7 1005.5h0M195.3 996.1h0M195.9 1004.5h0M196.5 1008.9h0M197.1 996.9h0M197.7 999.9h0M198.3 1011.8h0M198.9 997h0M199.5 999h0M200.1 1004h0M200.7 1001h0M201.3 998.1h0M201.9 1011.3h0M202.5 999.6h0M203.2 1004.5h0M203.8 1000.5h0M204.4 1001.5h0M205 995.3h0M205.6 1007.7h0M206.2 1000.4h0M206.8 1009.6h0M207.4 996.4h0M208 1000.1h0M208.6 1005.3h0M209.2 1003.3h0M209.8 999.2h0M210.4 1002h0M211 995.7h0M211.6 1003h0M212.2 988.4h0M212.8 1003.6h0M213.4 1010h0M214 1007.5h0M214.6 1007.3h0M215.2 1000.4h0M215.8 1005.3h0M216.4 1000.5h0M217 1002.2h0M217.6 1002.1h0M218.2 984.5h0M218.8 1007.7h0M219.4 1005.1h0M220 1007.2h0M220.6 997.6h0M221.2 1006.4h0M221.8 1005.3h0M222.4 990.7h0M223 993.2h0M223.6 1003h0M224.2 999.1h0M224.8 1002.6h0M225.4 999.2h0M226 1010.8h0M226.6 992.4h0M227.2 995.3h0M227.8 997.4h0M228.4 995.3h0M229 999.6h0M229.6 1002.5h0M230.2 995.5h0M230.8 1004.7h0M231.4 1009.8h0M232 1008.6h0M232.6 1013.5h0M233.2 1008.8h0M233.8 1002.5h0M234.4 1012.3h0M235 1006.5h0M235.6 1012.8h0M236.2 1001.7h0M236.8 991.4h0M237.4 996.4h0M238 1003.7h0M238.6 1005.7h0M239.2 1001.6h0M239.8 1008.1h0M240.4 996.5h0M241 998.9h0M241.6 1008.1h0M242.2 1003h0M242.8 1003.3h0M243.4 1010.3h0M244 1008.7h0M244.6 998.5h0M245.2 1003.8h0M245.8 993.6h0M246.4 1002.7h0M247 1004.9h0M247.6 993.4h0M248.2 1011.2h0M248.8 1013.5h0M249.4 1005.4h0M250 1007.8h0M250.6 1010.9h0M251.2 1001.8h0M251.8 1008.4h0M252.4 1004.9h0M253 994.5h0M253.6 997.9h0M254.2 999.7h0M254.8 1008.6h0M255.4 1003.3h0M256 1008.1h0M256.6 1000.3h0M257.2 995.9h0M257.9 1013.9h0M258.5 1017.5h0M259.1 1004.9h0M259.7 1001.7h0M260.3 1009.2h0M260.9 996.8h0M261.5 1001.7h0M262.1 995.1h0M262.7 1005.4h0M263.3 1004.1h0M263.9 1000.6h0M264.5 999.3h0M265.1 994.6h0M265.7 998.4h0M266.3 1009.4h0M266.9 1000.9h0M267.5 1009.6h0M268.1 998.1h0M268.7 1002.4h0M269.3 1000.3h0M269.9 1001.4h0M270.5 1007h0M271.1 991.7h0M271.7 1006.8h0M272.3 1006.6h0M272.9 1002.8h0M273.5 1003.2h0M274.1 1001.6h0M274.7 1006.5h0M275.3 1003.1h0M275.9 998.2h0M276.5 1003.6h0M277.1 1008h0M277.7 1004.8h0M278.3 1003h0M278.9 1003.9h0M279.5 1000.1h0M280.1 1000.3h0M280.7 992.7h0M281.3 1001.8h0M281.9 1008.1h0M282.5 1000.7h0M283.1 997.9h0M283.7 1007.6h0M284.3 1003.7h0M284.9 1003.6h0M285.5 1005.3h0M286.1 1006.6h0M286.7 1002.6h0M287.3 998.3h0M287.9 1012.2h0M288.5 1003.1h0M289.1 998.7h0M289.7 1003.8h0M290.3 1009.2h0M290.9 995.2h0M291.5 1009.8h0M292.1 1002.1h0M292.7 1013.5h0M293.3 1006.4h0M293.9 1002.3h0M294.5 1009.5h0M295.1 1009.6h0M295.7 1000.9h0M296.3 1004.1h0M296.9 1000.1h0M297.5 1007.7h0M298.1 995.3h0M298.7 1001.9h0M299.3 991.4h0M299.9 1006h0M300.5 990.9h0M301.1 997.2h0M301.7 1004.2h0M302.3 1000.9h0M302.9 1000.4h0M303.5 997.7h0M304.1 1000.3h0M304.7 993.4h0M305.3 1004.5h0M305.9 1007.1h0M306.5 1006.9h0M307.1 1002.6h0M307.7 1009.4h0M308.3 1005.3h0M308.9 1007.9h0M309.5 1004.9h0M310.1 1003h0M310.7 998.8h0M311.3 988.8h0M311.9 1006.3h0M312.6 1002.2h0M313.2 1013.4h0M313.8 992.2h0M314.4 1007.3h0M315 997.8h0M315.6 1002.8h0M316.2 998.1h0M316.8 1004.7h0M317.4 1002.7h0M318 1007.5h0M318.6 1003.6h0M319.2 1005.4h0M319.8 1009.6h0M320.4 1005.6h0M321 1002.1h0M321.6 1009.4h0M322.2 1002.2h0M322.8 1005h0M323.4 1001.1h0M324 999.3h0M324.6 986.8h0M325.2 1006.5h0M325.8 996.7h0M326.4 1006.8h0M327 1012.5h0M327.6 995.8h0M328.2 1007.5h0M328.8 1002.3h0M329.4 1005.3h0M330 996.5h0M330.6 1003h0M331.2 1003.7h0M331.8 1010.5h0M332.4 1014.3h0M333 1004.5h0M333.6 1000.9h0M334.2 1014.7h0M334.8 1002.3h0M335.4 1002.6h0M336 1003.4h0M336.6 1005.3h0M337.2 1006.6h0M337.8 999.8h0M338.4 1002.3h0M339 1012.9h0M339.6 1011.4h0M340.2 1005.2h0M340.8 1004.3h0M341.4 1001.6h0M342 1008.3h0M342.6 1000.1h0M343.2 1003.5h0M343.8 1000.4h0M344.4 999.6h0M345 1003.1h0M345.6 1002.9h0M346.2 999.8h0M346.8 1002.5h0M347.4 1003.2h0M348 1000.4h0M348.6 999.4h0M349.2 1002.2h0M349.8 1006.6h0M350.4 1008.8h0M351 1003.9h0M351.6 1001.5h0M352.2 1002.7h0M352.8 1013.1h0M353.4 1007.8h0M354 997.8h0M354.6 1002.6h0M355.2 1000.1h0M355.8 1001h0M356.4 993.9h0M357 1003h0M357.6 995.7h0M358.2 999.8h0M358.8 1011h0M359.4 1008.2h0M360 998.3h0M360.6 997.4h0M361.2 998h0M361.8 992.9h0M362.4 997.7h0M363 1001.5h0M363.6 997.3h0M364.2 1006.9h0M364.8 1002.6h0M365.4 1000.1h0M366 1012.2h0M366.6 1006.7h0M367.2 1003.3h0M367.9 1012.7h0M368.5 1009.9h0M369.1 999.1h0M369.7 1004.6h0M370.3 1000.6h0M370.9 995.2h0M371.5 1013h0M372.1 1010.9h0M372.7 996.1h0M373.3 1005.5h0M373.9 994.1h0M374.5 1008.6h0M375.1 1002.6h0M375.7 1001.3h0M376.3 1009.6h0M376.9 1003h0M377.5 1001.5h0M378.1 1007.8h0M378.7 1001.3h0M379.3 1007.6h0M379.9 1002.9h0M380.5 1007.3h0M381.1 1006.3h0M381.7 1007.1h0M382.3 997.5h0M382.9 1013h0M383.5 1002h0M384.1 1012.3h0M384.7 999.7h0M385.3 1001.4h0M385.9 1001.5h0M386.5 1009.1h0M387.1 1000.6h0M387.7 1005.1h0M388.3 994.5h0M388.9 1000.3h0M389.5 1004.1h0M390.1 1002.3h0M390.7 992.8h0M391.3 1005.6h0M391.9 997.7h0M392.5 1013.3h0M393.1 1001.9h0M393.7 1015.1h0M394.3 1006.5h0M394.9 1005.4h0M395.5 1000.3h0M396.1 1002.3h0M396.7 1005.3h0M397.3 992.4h0M397.9 1008.3h0M398.5 996.6h0M399.1 1001.5h0M399.7 988.2h0M400.3 1005.4h0M400.9 1006.9h0M401.5 1004.4h0M402.1 1004.6h0M402.7 1000.9h0M403.3 1003.7h0M403.9 1009.4h0M404.5 1000.6h0M405.1 1005.6h0M405.7 1006.8h0M406.3 1001.6h0M406.9 1004.2h0M407.5 1004.1h0M408.1 1000.2h0M408.7 1016.1h0M409.3 1000.6h0M409.9 1012.2h0M410.5 1008.7h0M411.1 991.9h0M411.7 1004.3h0M412.3 1008.5h0M412.9 1007.3h0M413.5 998h0M414.1 1004.3h0M414.7 996.4h0M415.3 997.3h0M415.9 1001.6h0M416.5 1003.9h0M417.1 1011.6h0M417.7 1004.8h0M418.3 1008.6h0M418.9 996.4h0M419.5 996.6h0M420.1 1000.3h0M420.7 1012.4h0M421.3 995.6h0M421.9 994.3h0M422.6 1002.5h0M423.2 1009.4h0M423.8 994h0M424.4 1001.5h0M425 995.5h0M425.6 1010.8h0M426.2 1006.6h0M426.8 1004.4h0M427.4 1002.6h0M428 1001.6h0M428.6 1003.6h0M429.2 999.4h0M429.8 998.1h0M430.4 996.8h0M431 1002.9h0M431.6 998.6h0M432.2 1007.6h0M432.8 991.4h0M433.4 1006h0M434 1005.8h0M434.6 1009.5h0M435.2 1001.5h0M435.8 994.7h0M436.4 997.8h0M437 1009h0M437.6 1001.2h0M438.2 1000.6h0M438.8 999.7h0M439.4 1002.5h0M440 1001.6h0M440.6 994.4h0M441.2 999.6h0M441.8 1008.4h0M442.4 1010.8h0M443 1002.2h0M443.6 1000h0M444.2 1010.3h0M444.8 1001.9h0M445.4 996.4h0M446 1002.2h0M446.6 1006.6h0M447.2 1011.4h0M447.8 1000.2h0M448.4 1005.8h0M449 1001.1h0M449.6 1009.1h0M450.2 1004.3h0M450.8 1004.3h0M451.4 997.5h0M452 1001.1h0M452.6 1001.1h0M453.2 983.2h0M453.8 1007.5h0M454.4 1002.8h0M455 1001.7h0M455.6 1000.9h0M456.2 1003h0M456.8 1004.2h0M457.4 995.7h0M458 1003.5h0M458.6 1003.5h0M459.2 1003h0M459.8 994.8h0M460.4 1002.1h0M461 995.9h0M461.6 1004.7h0M462.2 1010h0M462.8 1007.6h0M463.4 1001h0M464 999.9h0M464.6 999.8h0M465.2 1004.7h0M465.8 999.2h0M466.4 999.9h0M467 989.2h0M467.6 998.2h0M468.2 998.6h0M468.8 999.9h0M469.4 1009.5h0M470 995.5h0M470.6 995.6h0M471.2 1006.1h0M471.8 997.5h0M472.4 1001.9h0M473 1003.8h0M473.6 1002.9h0M474.2 998.6h0M474.8 1007.8h0M475.4 1011h0M476 997.4h0M476.6 1001.4h0M477.3 1008h0M477.9 1001.7h0M478.5 997.4h0M479.1 1000.5h0M479.7 1007.4h0M480.3 997.4h0M480.9 1004.2h0M481.5 1004.9h0M482.1 999.3h0M482.7 1005.9h0M483.3 1006.5h0M483.9 1008.3h0M484.5 1007.9h0M485.1 994.7h0M485.7 1007.7h0M486.3 1006h0M486.9 1008.2h0M487.5 998.2h0M488.1 1007.8h0M488.7 1004.9h0M489.3 996.5h0M489.9 1009.8h0M490.5 998.6h0M491.1 997.3h0M491.7 1005h0M492.3 999.6h0M492.9 1004.8h0M493.5 1001.5h0M494.1 1004.4h0M494.7 1007.3h0M495.3 1002.7h0M495.9 1007.6h0M496.5 1007.4h0M497.1 998.3h0M497.7 1007.5h0M498.3 1006.2h0M498.9 1003.6h0M499.5 1008.9h0M500.1 1011.8h0M500.7 1007h0M501.3 994.9h0M501.9 1005.3h0M502.5 1002.1h0M503.1 1001.4h0M503.7 1004.7h0M504.3 1001.1h0M504.9 1011.7h0M505.5 1004.4h0M506.1 1003h0M506.7 1007.1h0M507.3 1007.2h0M507.9 1009.3h0M508.5 1006.3h0M509.1 1002.7h0M509.7 1003.6h0M510.3 991.2h0M510.9 994.9h0M511.5 1008.5h0M512.1 1001.1h0M512.7 1012.7h0M513.3 1012.7h0M513.9 996.1h0M514.5 1004.6h0M515.1 1018.6h0M515.7 998.6h0M516.3 1005h0M516.9 1001.6h0M517.5 1001.6h0M518.1 1001.4h0M518.7 1002.8h0M519.3 1007h0M519.9 998.5h0M520.5 1005.6h0M521.1 999.1h0M521.7 1005.7h0M522.3 1004.6h0M522.9 998.7h0M523.5 1003.7h0M524.1 998.9h0M524.7 998.3h0M525.3 1009.2h0M525.9 993h0M526.5 1005.9h0M527.1 1006.7h0M527.7 999.7h0M528.3 1008.8h0M528.9 1007.8h0M529.5 995.9h0M530.1 1005.7h0M530.7 1005.4h0M531.3 998.9h0M531.9 1006h0M532.6 1007h0M533.2 999h0M533.8 992.1h0M534.4 1005.1h0M535 998.9h0M535.6 993.6h0M536.2 1000.8h0M536.8 990h0M537.4 1001.1h0M538 1011.1h0M538.6 987.4h0M539.2 1005.4h0M539.8 997.9h0M540.4 1000.7h0M541 997.9h0M541.6 1006.4h0M542.2 1002.8h0M542.8 998.6h0M543.4 995.8h0M544 1000.6h0M544.6 1009.2h0M545.2 996.3h0M545.8 1005.2h0M546.4 1004.7h0M547 992h0M547.6 1008.9h0M548.2 1002.7h0M548.8 1015h0M549.4 1012.4h0M550 1001.5h0M550.6 1002.1h0M551.2 997.4h0M551.8 995.4h0M552.4 1007.2h0M553 1001.5h0M553.6 1000.7h0M554.2 1002h0M554.8 1006.6h0M555.4 1008h0M556 1002.9h0M556.6 1001.8h0M557.2 1003.5h0M557.8 1014.2h0M558.4 991.6h0M559 996.6h0M559.6 1005.5h0M560.2 1003.7h0M560.8 1009.6h0M561.4 1010.1h0M562 1013.7h0M562.6 998.5h0M563.2 1006.3h0M563.8 1001.6h0M564.4 1008.2h0M565 1003.9h0M565.6 1007.8h0M566.2 998.9h0M566.8 1003.8h0M567.4 1000.1h0M568 1001.5h0M568.6 1000.4h0M569.2 997.3h0M569.8 1009h0M570.4 1004.5h0M571 1008.9h0M571.6 997.5h0M572.2 992.2h0M572.8 999.4h0M573.4 1002.1h0M574 1007.3h0M574.6 1008.7h0M575.2 1009.6h0M575.8 1011.4h0M576.4 1006.9h0M577 1003.5h0M577.6 998.7h0M578.2 1006.7h0M578.8 1000.2h0M579.4 998.5h0M580 1006.2h0M580.6 1004.1h0M581.2 1007.6h0M581.8 999h0M582.4 1009.4h0M583 1004.9h0M583.6 1002h0M584.2 998.8h0M584.8 997h0M585.4 995.4h0M586 1010.6h0M586.6 995.1h0M587.3 1006.4h0M587.9 1001.6h0M588.5 999.8h0M589.1 1000.3h0M589.7 1002.4h0M590.3 1007.9h0M590.9 1006h0M591.5 1002.9h0M592.1 995.4h0M592.7 993.2h0M593.3 1013.2h0M593.9 997.4h0M594.5 994.3h0M595.1 1009.1h0M595.7 994.7h0M596.3 1007h0M596.9 1008.1h0M597.5 1004.3h0M598.1 1008.2h0M598.7 995.3h0M599.3 996.2h0M599.9 1001.9h0M600.5 1002.9h0M601.1 1002.5h0M601.7 1005.5h0M602.3 998.9h0M602.9 991.2h0M603.5 1005.2h0M604.1 1001.7h0M604.7 1007.4h0M605.3 1014.4h0M605.9 1003.4h0M606.5 1006.1h0M607.1 998h0M607.7 1007.9h0M608.3 1004.8h0M608.9 1004.3h0M609.5 1008h0M610.1 996.7h0M610.7 1006h0M611.3 1005.4h0M611.9 1011.7h0M612.5 993h0M613.1 1002.4h0M613.7 1015h0M614.3 1000.7h0M614.9 1000.5h0M615.5 1012.7h0M616.1 1016.7h0M616.7 1003.6h0M617.3 999h0M617.9 999.7h0M618.5 1000.7h0M619.1 998.3h0M619.7 998.5h0M620.3 1003.9h0M620.9 1003.1h0M621.5 1005.5h0M622.1 1003.1h0M622.7 996.3h0M623.3 1007h0M623.9 1004.3h0M624.5 999.7h0M625.1 1001.4h0M625.7 1004.7h0M626.3 1003.3h0M626.9 1002.2h0M627.5 1007.1h0M628.1 1008.8h0M628.7 1001.2h0M629.3 1002.8h0M629.9 996.8h0M630.5 1002h0M631.1 1005.5h0M631.7 1007.7h0M632.3 1003.8h0M632.9 1002.4h0M633.5 999h0M634.1 1004.1h0M634.7 996.9h0M635.3 1003.6h0M635.9 1003h0M636.5 997.9h0M637.1 1004.7h0M637.7 1001.7h0M638.3 1006.2h0M638.9 1000.2h0M639.5 1005.6h0M640.1 1011.5h0M640.7 1003.9h0M641.3 1007.2h0M642 999.4h0M642.6 1001h0M643.2 992.5h0M643.8 1002.1h0M644.4 996.7h0M645 1003.5h0M645.6 991.6h0M646.2 998.2h0M646.8 1003.3h0M647.4 1005h0M648 993.8h0M648.6 1000.6h0M649.2 1017h0M649.8 1007.2h0M650.4 1003.8h0M651 987.8h0M651.6 997.8h0M652.2 1005.7h0M652.8 1004.2h0M653.4 1005.4h0M654 1008.1h0M654.6 1003.4h0M655.2 1007.6h0M655.8 993.1h0M656.4 1016.6h0M657 1001.2h0M657.6 999.3h0M658.2 1011.1h0M658.8 1006.2h0M659.4 1008.2h0M660 999.5h0M660.6 1004.4h0M661.2 1006.8h0M661.8 996.6h0M662.4 1001.7h0M663 1001.5h0M663.6 1001.3h0M664.2 999h0M664.8 996h0M665.4 1005.2h0M666 1004.2h0M666.6 1009.2h0M667.2 1002.5h0M667.8 999.2h0M668.4 994.9h0M669 1003.3h0M669.6 1001.2h0M670.2 1013.9h0M670.8 1015.4h0M671.4 1011.5h0M672 997.9h0M672.6 995.2h0M673.2 1001.6h0M673.8 998h0M674.4 1010.6h0M675 1003.5h0M675.6 1000.6h0M676.2 1002.8h0M676.8 1009.7h0M677.4 997.7h0M678 1005.5h0M678.6 995.6h0M679.2 1001.7h0M679.8 999.2h0M680.4 1004.6h0M681 1003.7h0M681.6 1009.4h0M682.2 1006.6h0M682.8 999.5h0M683.4 995.6h0M684 998.4h0M684.6 1000.5h0M685.2 1001.6h0M685.8 998.7h0M686.4 1008.8h0M687 1008h0M687.6 1001.4h0M688.2 1000.1h0M688.8 1001.5h0M689.4 1002.6h0M690 1002.7h0M690.6 994h0M691.2 1000.5h0M691.8 992.6h0M692.4 1003h0M693 1006.5h0M693.6 997h0M694.2 1003.7h0M694.8 999.5h0M695.4 999h0M696 1013.6h0M696.6 1007.7h0M697.3 1005.5h0M697.9 1000.5h0M698.5 1005.1h0M699.1 1001.8h0M699.7 1005.3h0M700.3 997.9h0M700.9 1002.4h0M701.5 1000.7h0M702.1 995.1h0M702.7 1012.1h0M703.3 1007.3h0M703.9 998.5h0M704.5 994.8h0M705.1 998.8h0M705.7 998.2h0M706.3 999.5h0M706.9 994.5h0M707.5 998.3h0M708.1 1003.2h0M708.7 1005.1h0M709.3 992h0M709.9 1002.8h0M710.5 997.4h0M711.1 997.1h0M711.7 1001.1h0M712.3 999.1h0M712.9 1006.7h0M713.5 1006.7h0M714.1 1001.1h0M714.7 999.3h0M715.3 1012.7h0M715.9 1013.1h0M716.5 1004.9h0M717.1 1002h0M717.7 1008.4h0M718.3 1010.8h0M718.9 999.9h0M719.5 1012.8h0M720.1 1001.9h0M720.7 1008.8h0M721.3 1000h0M721.9 1003.2h0M722.5 1000.3h0M723.1 1003h0M723.7 1008.4h0M724.3 997.9h0M724.9 1001.2h0M725.5 1005.8h0M726.1 1000.2h0M726.7 1014h0M727.3 994.7h0M727.9 1016.8h0M728.5 999.2h0M729.1 1008.2h0M729.7 1011.7h0M730.3 1005.8h0M730.9 995h0M731.5 1001h0M732.1 1003.2h0M732.7 1005.9h0M733.3 1008.3h0M733.9 1009h0M734.5 1011h0M735.1 997.5h0M735.7 1008.3h0M736.3 993.2h0M736.9 1003.6h0M737.5 996.9h0M738.1 992.9h0M738.7 1007.9h0M739.3 1002.6h0M739.9 1008.3h0M740.5 994h0M741.1 996.1h0M741.7 1002.3h0M742.3 999.1h0M742.9 1003.2h0M743.5 999.4h0M744.1 1000.9h0M744.7 996.5h0M745.3 1009.9h0M745.9 1001h0M746.5 996.3h0M747.1 1006.6h0M747.7 1005.5h0M748.3 1004h0M748.9 1004h0M749.5 1000.6h0M750.1 1002.1h0M750.7 990.5h0M751.3 994.2h0M752 996h0M752.6 1004.4h0M753.2 1009.6h0M753.8 1001.9h0M754.4 1001.3h0M755 1009.1h0M755.6 1000.8h0M756.2 1006.5h0M756.8 1005.2h0M757.4 995.4h0M758 1004.6h0M758.6 1003.9h0M759.2 996.4h0M759.8 997.1h0M760.4 995.7h0M761 1010.4h0M761.6 1014.6h0M762.2 1006.7h0M762.8 1011.5h0M763.4 995.3h0M764 1010.6h0M764.6 1013.8h0M765.2 1011.8h0M765.8 997.6h0M766.4 1008.9h0M767 1002.2h0M767.6 1008.8h0M768.2 999.2h0M768.8 1002.9h0M769.4 999.6h0M770 1005.5h0M770.6 1002.2h0M771.2 1009h0M771.8 1007.4h0M772.4 1005.1h0M773 1002.6h0M773.6 1001.1h0M774.2 1002.8h0M774.8 1007h0M775.4 1003.5h0M776 1004.4h0M776.6 1002.6h0M777.2 1002.4h0M777.8 999.1h0M778.4 992.3h0M779 1006h0M779.6 1005.9h0M780.2 997.4h0M780.8 1013.5h0M781.4 996.3h0M782 1008.4h0M782.6 1004.2h0M783.2 1004.6h0M783.8 1009.2h0M784.4 1008h0M785 1003h0M785.6 996.9h0M786.2 996h0M786.8 1003.9h0M787.4 1011.6h0M788 1007.7h0M788.6 1002.6h0M789.2 1004.7h0M789.8 1006.6h0M790.4 1012.4h0M791 998.6h0M791.6 1006.9h0M792.2 1004.4h0M792.8 998.6h0M793.4 997.1h0M794 1009.9h0M794.6 1004.7h0M795.2 1001.7h0M795.8 1003.4h0M796.4 1008.3h0M797 1003.4h0M797.6 1011.8h0M798.2 1001.4h0M798.8 998.4h0M799.4 1002.2h0M800 997.6h0M800.6 1000.9h0M801.2 1009.7h0M801.8 1012.4h0M802.4 1006.4h0M803 1003.9h0M803.6 997.7h0M804.2 997.2h0M804.8 1004.9h0M805.4 1003.8h0M806 999.6h0M806.7 1000.3h0M807.3 1011.5h0M807.9 1008.4h0M808.5 1003.1h0M809.1 1004.1h0M809.7 1010h0M810.3 1004.8h0M810.9 1004.2h0M811.5 994h0M812.1 993.4h0M812.7 992.2h0M813.3 990.2h0M813.9 1002.8h0M814.5 1004.7h0M815.1 998h0M815.7 1005.3h0M816.3 1005.3h0M816.9 1002.4h0M817.5 994.6h0M818.1 1010.9h0M818.7 1010.5h0M819.3 999.6h0M819.9 1013.7h0M820.5 1003.1h0M821.1 998.4h0M821.7 1000.5h0M822.3 992.5h0M822.9 1000.9h0M823.5 993.9h0M824.1 1009.2h0M824.7 1004.6h0M825.3 995.1h0M825.9 1006h0M826.5 993.2h0M827.1 1003.7h0M827.7 1005.5h0M828.3 1003.2h0M828.9 996.5h0M829.5 1002.2h0M830.1 1001.8h0M830.7 1003.2h0M831.3 1011.1h0M831.9 1012.3h0M832.5 1011.7h0M833.1 999.3h0M833.7 998.6h0M834.3 1002.9h0M834.9 1005.3h0M835.5 991.3h0M836.1 999.4h0M836.7 1012.8h0M837.3 995.9h0M837.9 998.7h0M838.5 998.9h0M839.1 1005.6h0M839.7 1002.5h0M840.3 1001h0M840.9 994.3h0M841.5 1006.2h0M842.1 1002.8h0M842.7 999.1h0M843.3 1003h0M843.9 1007.2h0M844.5 994.5h0M845.1 994.1h0M845.7 997.1h0M846.3 997.9h0M846.9 985.7h0M847.5 999.4h0M848.1 1009h0M848.7 1001h0M849.3 1008.5h0M849.9 986.7h0M850.5 1002.2h0M851.1 1010.6h0M851.7 1011.6h0M852.3 1000h0M852.9 998.2h0M853.5 1005h0M854.1 996h0M854.7 1000.8h0M855.3 993.4h0M855.9 1003.3h0M856.5 1002.8h0M857.1 1011.9h0M857.7 1004.8h0M858.3 999.1h0M858.9 1002.3h0M859.5 995.6h0M860.1 1003h0M860.7 1001.6h0M861.3 1005.2h0M862 1008h0M862.6 991.6h0M863.2 1004.6h0M863.8 1006.9h0M864.4 996.1h0M865 1013.5h0M865.6 998.8h0M866.2 1016.6h0M866.8 1007.2h0M867.4 1008.2h0M868 1004.3h0M868.6 1008.5h0M869.2 997h0M869.8 998.3h0M870.4 991.8h0M871 1005.8h0M871.6 998.8h0M872.2 1007h0M872.8 1006.2h0M873.4 995.3h0M874 1006.7h0M874.6 1004.3h0M875.2 1003.9h0M875.8 1005.4h0M876.4 1002.7h0M877 1002.9h0M877.6 1008.7h0M878.2 997.2h0M878.8 996.1h0M879.4 998.5h0M880 1008.6h0M880.6 1001h0M881.2 1013.5h0M881.8 985.5h0M882.4 994.1h0M883 996.9h0M883.6 993.5h0M884.2 989.9h0M884.8 982.4h0M885.4 989.2h0M886 981.5h0M886.6 984h0M887.2 977.9h0M887.8 980.5h0M888.4 981.7h0M889 976.4h0M132.6 973h0M134.6 976.6h0M142.4 978.2h0M148.2 978.2h0M149.6 982h0M150.6 987.4h0M133.8 987.2h0M140 986h0M137.6 992.6h0M154.4 993.8h0M169.8 986h0M176.4 975.6h0M178.8 987.4h0M164.6 992.2h0M162.8 995h0M140 1002.7h0M132.2 1007.8h0M129.2 1015.6h0M134 1016.8h0M138.8 1013.2h0M141.8 1014.4h0M144.2 1021h0M146 1004.8h0M149.6 1006.6h0M155.6 1001.8h0M156.8 1016.8h0M161.6 1019.8h0M158.6 1012h0M144.8 1028.2h0M148.4 1031.2h0M152 1022.8h0M131 1032.4h0M127.4 1036h0M142.4 1037.2h0M138.8 1042.6h0M134 1046.2h0M143 1048h0M146.6 1051.6h0M156.2 1033.6h0M159.8 1039h0M152 1036h0M150 1000h0M153 1008h0M157 1003h0M145 998h0M142 1008h0M152 1012h0M133.4 1046.6h0M138.8 1043.6h0M142.4 1047.8h0M171.2 1065.8h0M127.4 1071.2h0M138.8 1082.6h0M135.8 1085.6h0M126 1089.2h0M128.6 1103h0M136.4 1101.8h0M125.6 1108.4h0M129.8 1108.4h0M125 1139h0M131.4 1138.2h0M125 1145.9h0M128.6 1158.8h0M128.7 1160h0M121 1206.8h0M124.9 1209.4h0M119 1211.4h0M124.2 1216.5h0M119.7 1220.4h0M122.3 1225.6h0M134.4 849.5h0M242.4 953h0M250.4 974h0M325.6 974h0M524 919h0M684 970h0M687 983.6h0M400 983.6h0M880 949h0M881.6 879h0M486.4 1078.5h0M576 1089.6h0M521.6 1031.4h0M512.8 1025h0M360 1025h0M372 1030.6h0M172 1065h0M816.7 981h0M318 984.6h0M887 990h0M888 985h0M886 970h0" stroke="#4472C4" stroke-width="6" stroke-linecap="round" fill="none"/><rect x="183.3" y="782.4" width="638" height="39.1" fill="#fff" stroke="#000" stroke-width="1.4"/><circle cx="202.2" cy="802" r="6.4" fill="#92D050"/><text x="217.3" y="810.3" font-size="21" textLength="191.7" lengthAdjust="spacingAndGlyphs" font-family="Liberation Sans, sans-serif">DLD-1-TCF/LEF-Luc,</text><circle cx="435" cy="802" r="6.4" fill="#C00000"/><text x="447.2" y="810.3" font-size="21" textLength="166.6" lengthAdjust="spacingAndGlyphs" font-family="Liberation Sans, sans-serif">DLD-1-NF&#954;B-Luc,</text><circle cx="636.5" cy="802" r="6.4" fill="#0070C0"/><text x="648.8" y="810.3" font-size="21" textLength="161" lengthAdjust="spacingAndGlyphs" font-family="Liberation Sans, sans-serif">DLD-1-NRF2-Luc</text><path d="M138 1360.4L892.7 1321L892.7 1360.4Z" fill="#404040"/><text x="624.8" y="1354.8" font-size="22" font-weight="bold" fill="#fff" style="color:#fff" textLength="261.2" lengthAdjust="spacingAndGlyphs" font-family="Liberation Sans, sans-serif">TCF/LEF luciferase activity</text><text x="420.5" y="1387.7" font-size="28" textLength="217" lengthAdjust="spacingAndGlyphs" font-family="Liberation Sans, sans-serif">1280 Compounds</text></svg></body></html>
